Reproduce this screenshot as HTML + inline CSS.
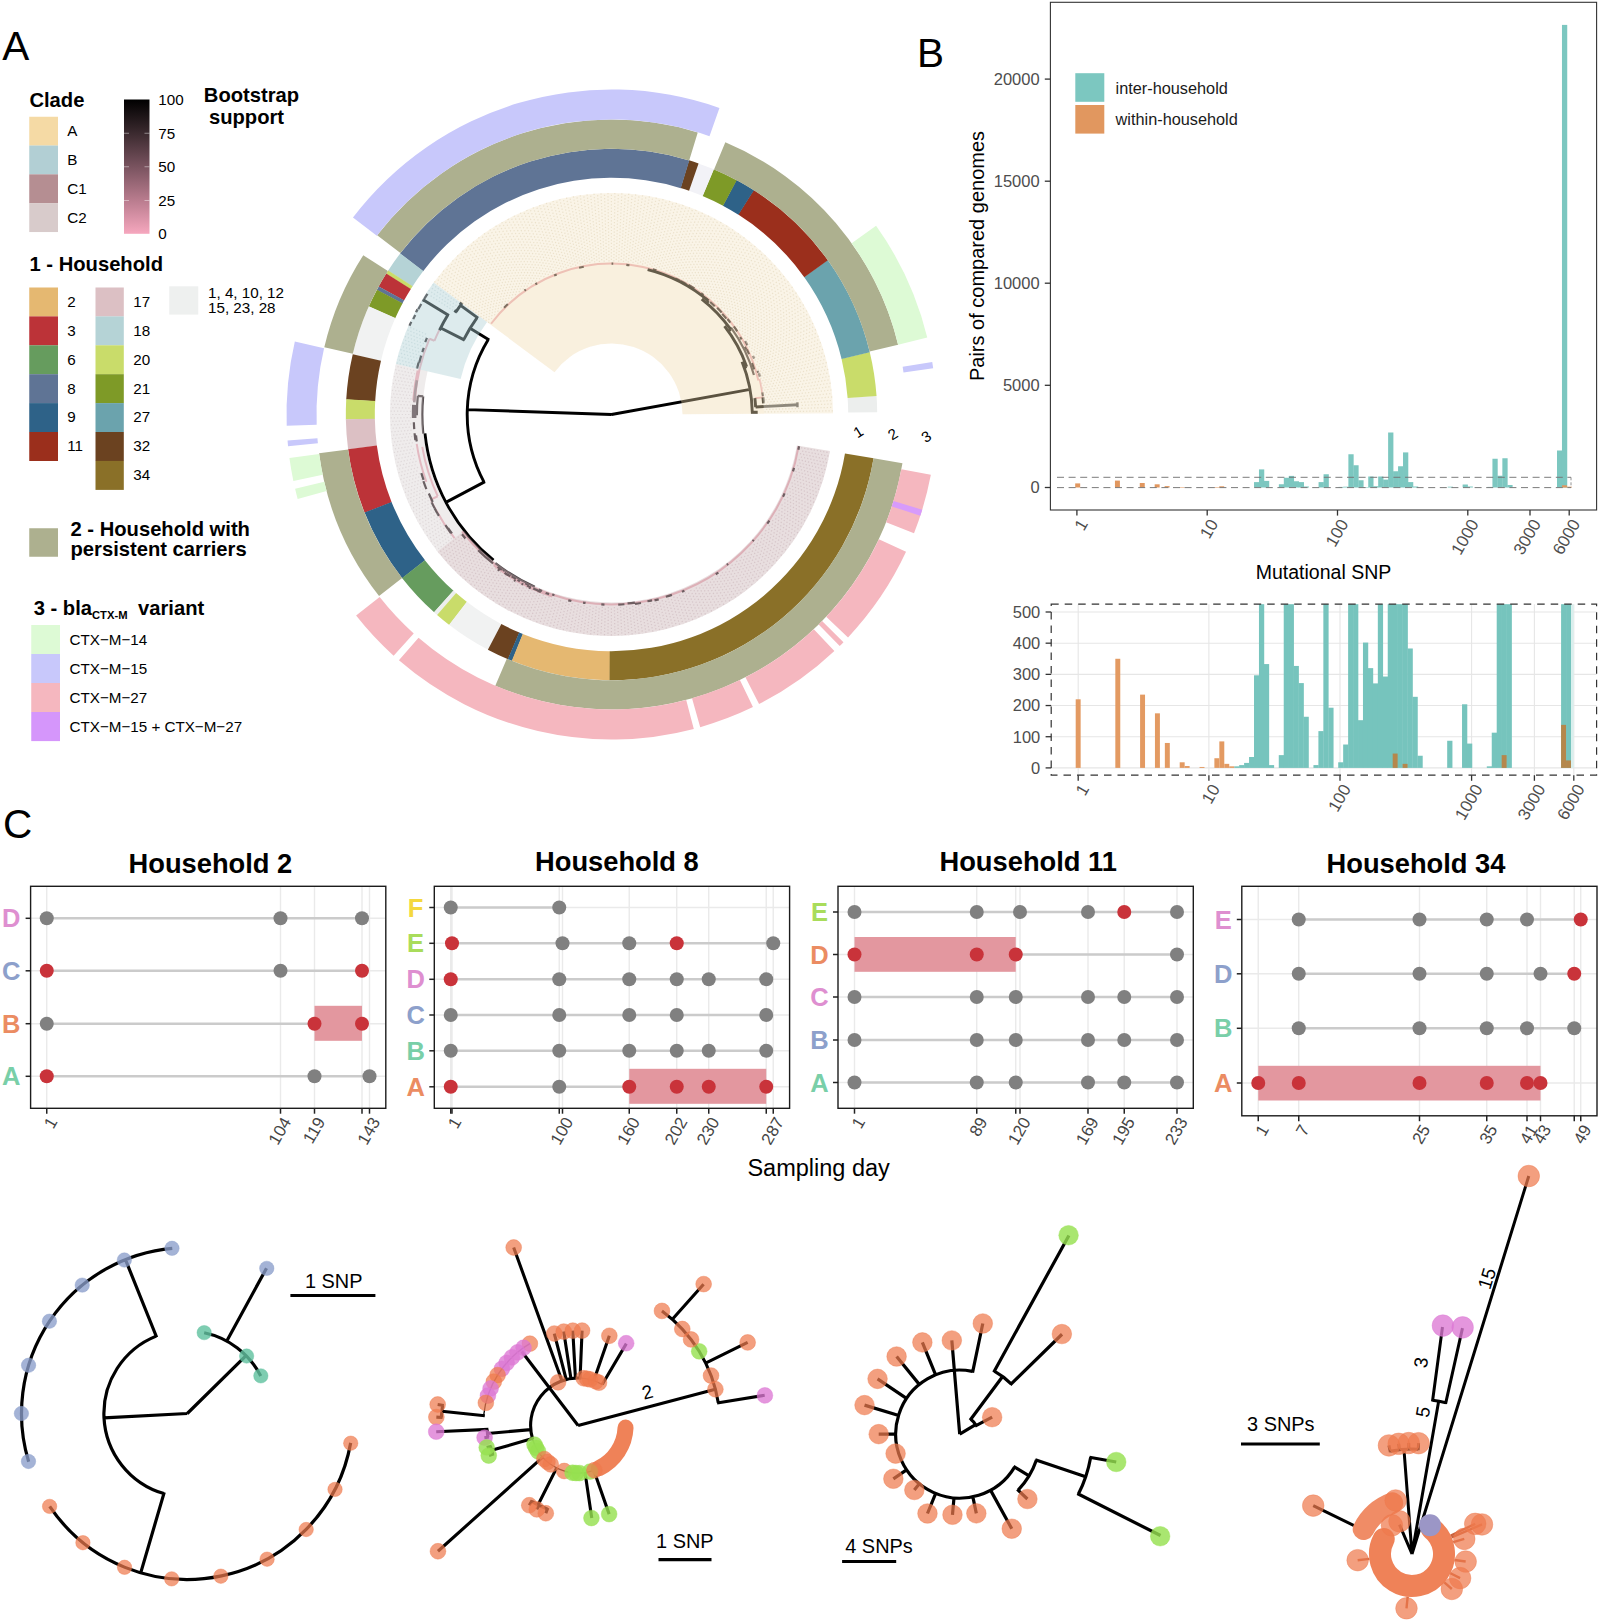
<!DOCTYPE html>
<html><head><meta charset="utf-8"><title>Figure</title>
<style>
html,body{margin:0;padding:0;background:#fff;}
body{width:1600px;height:1622px;overflow:hidden;font-family:"Liberation Sans",sans-serif;}
svg{display:block;font-family:"Liberation Sans",sans-serif;}
</style></head><body>
<svg width="1600" height="1622" viewBox="0 0 1600 1622">
<rect width="1600" height="1622" fill="#fff"/>
<g id="panelA">
<text x="2.2" y="60" font-size="40.5" text-anchor="start" font-weight="normal" fill="#000" >A</text>
<text x="29.4" y="106.5" font-size="20.2" text-anchor="start" font-weight="bold" fill="#000" >Clade</text>
<rect x="29.25" y="116.75" width="28.75" height="28.9" fill="#F5DAA5"/>
<text x="67.3" y="136.35" font-size="15.2" text-anchor="start" font-weight="normal" fill="#000" >A</text>
<rect x="29.25" y="145.55" width="28.75" height="28.9" fill="#B2CFD4"/>
<text x="67.3" y="165.15" font-size="15.2" text-anchor="start" font-weight="normal" fill="#000" >B</text>
<rect x="29.25" y="174.35" width="28.75" height="28.9" fill="#B58E92"/>
<text x="67.3" y="193.95" font-size="15.2" text-anchor="start" font-weight="normal" fill="#000" >C1</text>
<rect x="29.25" y="203.15" width="28.75" height="28.9" fill="#D8CBCB"/>
<text x="67.3" y="222.75" font-size="15.2" text-anchor="start" font-weight="normal" fill="#000" >C2</text>
<defs><linearGradient id="bs" x1="0" y1="0" x2="0" y2="1"><stop offset="0" stop-color="#000000"/><stop offset="0.25" stop-color="#3B2A2F"/><stop offset="0.5" stop-color="#79535F"/><stop offset="0.75" stop-color="#B97C8E"/><stop offset="1" stop-color="#F6A7BE"/></linearGradient></defs>
<rect x="124" y="99.5" width="25.5" height="134.3" fill="url(#bs)"/>
<path d="M124 133.25h5M144.5 133.25h5" stroke="#fff" stroke-opacity="0.55" stroke-width="0.8"/>
<path d="M124 166.75h5M144.5 166.75h5" stroke="#fff" stroke-opacity="0.55" stroke-width="0.8"/>
<path d="M124 200.5h5M144.5 200.5h5" stroke="#fff" stroke-opacity="0.55" stroke-width="0.8"/>
<text x="158.3" y="105.4" font-size="15.2" text-anchor="start" font-weight="normal" fill="#000" >100</text>
<text x="158.3" y="138.8" font-size="15.2" text-anchor="start" font-weight="normal" fill="#000" >75</text>
<text x="158.3" y="172.4" font-size="15.2" text-anchor="start" font-weight="normal" fill="#000" >50</text>
<text x="158.3" y="206" font-size="15.2" text-anchor="start" font-weight="normal" fill="#000" >25</text>
<text x="158.3" y="239.4" font-size="15.2" text-anchor="start" font-weight="normal" fill="#000" >0</text>
<text x="251.5" y="102" font-size="20.2" text-anchor="middle" font-weight="bold" fill="#000" >Bootstrap</text>
<text x="246.5" y="124.3" font-size="20.2" text-anchor="middle" font-weight="bold" fill="#000" >support</text>
<text x="29.5" y="271.3" font-size="20.2" text-anchor="start" font-weight="bold" fill="#000" >1 - Household</text>
<rect x="29.25" y="287.5" width="28.75" height="29" fill="#E5B871"/>
<text x="67.3" y="306.8" font-size="15.2" text-anchor="start" font-weight="normal" fill="#000" >2</text>
<rect x="29.25" y="316.4" width="28.75" height="29" fill="#BC3338"/>
<text x="67.3" y="335.7" font-size="15.2" text-anchor="start" font-weight="normal" fill="#000" >3</text>
<rect x="29.25" y="345.3" width="28.75" height="29" fill="#669C5E"/>
<text x="67.3" y="364.6" font-size="15.2" text-anchor="start" font-weight="normal" fill="#000" >6</text>
<rect x="29.25" y="374.2" width="28.75" height="29" fill="#5F7495"/>
<text x="67.3" y="393.5" font-size="15.2" text-anchor="start" font-weight="normal" fill="#000" >8</text>
<rect x="29.25" y="403.1" width="28.75" height="29" fill="#2E6288"/>
<text x="67.3" y="422.4" font-size="15.2" text-anchor="start" font-weight="normal" fill="#000" >9</text>
<rect x="29.25" y="432" width="28.75" height="29" fill="#9B2F1C"/>
<text x="67.3" y="451.3" font-size="15.2" text-anchor="start" font-weight="normal" fill="#000" >11</text>
<rect x="95.5" y="287.5" width="28.3" height="29" fill="#DCC0C4"/>
<text x="133.2" y="306.8" font-size="15.2" text-anchor="start" font-weight="normal" fill="#000" >17</text>
<rect x="95.5" y="316.4" width="28.3" height="29" fill="#B5D3D6"/>
<text x="133.2" y="335.7" font-size="15.2" text-anchor="start" font-weight="normal" fill="#000" >18</text>
<rect x="95.5" y="345.3" width="28.3" height="29" fill="#C9DC6A"/>
<text x="133.2" y="364.6" font-size="15.2" text-anchor="start" font-weight="normal" fill="#000" >20</text>
<rect x="95.5" y="374.2" width="28.3" height="29" fill="#7E9A27"/>
<text x="133.2" y="393.5" font-size="15.2" text-anchor="start" font-weight="normal" fill="#000" >21</text>
<rect x="95.5" y="403.1" width="28.3" height="29" fill="#6BA3AD"/>
<text x="133.2" y="422.4" font-size="15.2" text-anchor="start" font-weight="normal" fill="#000" >27</text>
<rect x="95.5" y="432" width="28.3" height="29" fill="#6B4220"/>
<text x="133.2" y="451.3" font-size="15.2" text-anchor="start" font-weight="normal" fill="#000" >32</text>
<rect x="95.5" y="460.9" width="28.3" height="29" fill="#8A7028"/>
<text x="133.2" y="480.2" font-size="15.2" text-anchor="start" font-weight="normal" fill="#000" >34</text>
<rect x="169.25" y="286.3" width="29" height="28.3" fill="#EEF0EF"/>
<text x="208" y="297.6" font-size="15.2" text-anchor="start" font-weight="normal" fill="#000" >1, 4, 10, 12</text>
<text x="208" y="312.7" font-size="15.2" text-anchor="start" font-weight="normal" fill="#000" >15, 23, 28</text>
<rect x="29.25" y="528.25" width="28.75" height="28.5" fill="#ADB08F"/>
<text x="70.5" y="535.6" font-size="20.2" text-anchor="start" font-weight="bold" fill="#000" >2 - Household with</text>
<text x="70.5" y="555.9" font-size="20.2" text-anchor="start" font-weight="bold" fill="#000" >persistent carriers</text>
<text x="33.7" y="615" font-size="20.2" font-weight="bold">3 - bla<tspan font-size="11.2" dy="3.8">CTX-M</tspan><tspan dy="-3.8" dx="5"> variant</tspan></text>
<rect x="31.25" y="625" width="28.75" height="29.1" fill="#DDFAD5"/>
<text x="69.5" y="644.6" font-size="15.2" text-anchor="start" font-weight="normal" fill="#000" >CTX−M−14</text>
<rect x="31.25" y="654" width="28.75" height="29.1" fill="#C8C8FB"/>
<text x="69.5" y="673.6" font-size="15.2" text-anchor="start" font-weight="normal" fill="#000" >CTX−M−15</text>
<rect x="31.25" y="683" width="28.75" height="29.1" fill="#F5B7BF"/>
<text x="69.5" y="702.6" font-size="15.2" text-anchor="start" font-weight="normal" fill="#000" >CTX−M−27</text>
<rect x="31.25" y="712" width="28.75" height="29.1" fill="#D596FB"/>
<text x="69.5" y="731.6" font-size="15.2" text-anchor="start" font-weight="normal" fill="#000" >CTX−M−15 + CTX−M−27</text>
<path d="M758.44 380.58A150.8 150.8 0 0 0 491.07 323.75M762.95 397.51A152.4 152.4 0 0 0 759.69 378.92M754.89 398.29L762.94 397.38M439.26 330.12A191.8 191.8 0 0 0 434.43 340.79M434.43 340.79L429.44 338.72M429.44 338.72A197.2 197.2 0 0 0 414.78 400.74M417.64 370.46A198.8 198.8 0 0 0 413.18 400.63M416.71 443.96A197 197 0 0 0 426.38 481.88M422.24 446.85A192 192 0 0 0 437.77 496.25M437.77 496.25L430.72 499.57M430.72 499.57A199.8 199.8 0 0 0 454.49 538.06M461.94 531.35A189.8 189.8 0 0 0 798.64 446.15M493.66 565.33A191.4 191.4 0 0 0 552.35 596.53" stroke="#EDB4BF" stroke-width="2" fill="none"/>
<path d="M679.84 280.63A150.3 150.3 0 0 0 675.23 278.38M656.37 270.42A150.9 150.9 0 0 0 652.85 269.38M629.46 265.28A150.3 150.3 0 0 0 626.31 264.93M613.25 263.61A150.9 150.9 0 0 0 611.55 263.6M583.77 266.78A150.3 150.3 0 0 0 579.09 267.74M556.68 274.56A150.3 150.3 0 0 0 554.18 275.56M537.11 283.21A150.9 150.9 0 0 0 535.37 284.21M525.82 289.55A151.5 151.5 0 0 0 524.43 290.52M507.84 304.02A151.5 151.5 0 0 0 504.03 307.72M754.12 369.35A149.6 149.6 0 0 0 752.01 363.15M753.28 366.78A149.6 149.6 0 0 0 752.03 363.2M749.04 354.15A150.2 150.2 0 0 0 746.85 349.37M746.25 349.51A149.6 149.6 0 0 0 744.88 346.75M741.59 339.42A150.2 150.2 0 0 0 740.15 336.97M737.25 331.27A150.8 150.8 0 0 0 733.89 326.4M730.35 322.66A150.2 150.2 0 0 0 727.44 319.02M726.35 318.64A149.6 149.6 0 0 0 722.2 313.87M721.64 312.38A150.2 150.2 0 0 0 717.13 307.72M714.76 306.25A149.6 149.6 0 0 0 710.15 302.04M707.51 299.77A149.6 149.6 0 0 0 705.03 297.74M703.5 295.02A150.8 150.8 0 0 0 701.17 293.25M694.39 288.52A150.8 150.8 0 0 0 688.59 284.9M686.27 284.23A150.2 150.2 0 0 0 680.3 280.98M762.99 396.13A152.6 152.6 0 0 0 762.48 392.3M759.94 376.62A153.2 153.2 0 0 0 758.99 373.08M758.3 372.82A152.6 152.6 0 0 0 757.69 370.73M754.14 358.61A153.2 153.2 0 0 0 753.06 355.93M747.46 345.21A152.6 152.6 0 0 0 745.21 340.96M426.95 337.95A199.8 199.8 0 0 0 425.25 342.17M423.77 347.87A199.2 199.2 0 0 0 422.32 352.11M421.21 355.61A199.2 199.2 0 0 0 419.16 362.68M418.56 362.6A199.8 199.8 0 0 0 417.07 368.47M413.85 422.31A197.8 197.8 0 0 0 414.25 429.18M414.59 433.26A197.8 197.8 0 0 0 415.36 440.1M416.02 435.48A196.6 196.6 0 0 0 416.76 441.51M421.34 473.14A199 199 0 0 0 423.55 479.9M423.38 481.22A199.6 199.6 0 0 0 426.36 489.08M428.84 493.46A199 199 0 0 0 432.73 501.91M431.62 502.37A200.2 200.2 0 0 0 435.99 510.82M435.37 509.68A200.2 200.2 0 0 0 438.9 515.93M445.41 525.2A199.6 199.6 0 0 0 450.89 533.01M448.12 528.11A199 199 0 0 0 451.95 533.43M497.6 566.82A190.2 190.2 0 0 0 501.86 569.92M502.95 569.95A189.6 189.6 0 0 0 504.7 571.16M507.11 574.21A190.8 190.8 0 0 0 510.38 576.3M511.55 576.32A190.2 190.2 0 0 0 515.89 578.92M517.5 579.85A190.2 190.2 0 0 0 519.93 581.21M525.24 583.34A189.6 189.6 0 0 0 528.93 585.18M527.11 585.62A190.8 190.8 0 0 0 530.91 587.44M533.19 588.49A190.8 190.8 0 0 0 537.97 590.56M538.66 589.55A189.6 189.6 0 0 0 542.06 590.93M545.62 592.93A190.2 190.2 0 0 0 549.03 594.15M552.19 594.58A189.6 189.6 0 0 0 554.43 595.31M497.81 569.47A192.2 192.2 0 0 0 499.53 570.72M504.54 572.74A191 191 0 0 0 507.98 575.02M513.94 580.1A192.2 192.2 0 0 0 515.54 581.03M521.51 583.65A191.6 191.6 0 0 0 523.22 584.55M528.99 587.42A191.6 191.6 0 0 0 530.75 588.25M537.79 590.71A191 191 0 0 0 540.91 591.98M618.22 604.58A190.2 190.2 0 0 0 624.43 604.26M627.55 603.42A189.6 189.6 0 0 0 634.88 602.65M635.03 603.84A190.8 190.8 0 0 0 641.02 603M647.44 601.27A190.2 190.2 0 0 0 652.07 600.32M654.49 600.39A190.8 190.8 0 0 0 658.72 599.36M665.85 596.77A190.2 190.2 0 0 0 671.91 594.85M568.25 600.33A190.8 190.8 0 0 0 571.37 601.03M583.06 602.56A190.2 190.2 0 0 0 585.58 602.93M601.31 604.43A190.2 190.2 0 0 0 604.47 604.57M681.92 591.83A190.8 190.8 0 0 0 684.42 590.82M715.79 574.28A190.8 190.8 0 0 0 718.38 572.56M726.86 564.97A189.6 189.6 0 0 0 728.14 563.98M752.63 541.12A189.6 189.6 0 0 0 753.75 539.85M767.3 523.59A190.2 190.2 0 0 0 769.37 520.58M783.03 496.68A190.2 190.2 0 0 0 784.57 493.37M793 471.38A190.2 190.2 0 0 0 794.05 467.88M798.39 449.81A190.2 190.2 0 0 0 799.04 446.22M427.46 293.96A220 220 0 0 0 424.23 299.04M424.42 298.74A220 220 0 0 0 422.75 301.47M421.29 303.95A220 220 0 0 0 418.28 309.3M417.57 309.36A220.6 220.6 0 0 0 416.07 312.16M415.28 315.02A220 220 0 0 0 413.24 319.14M411.29 321.87A220.6 220.6 0 0 0 409.51 325.81M461.97 534.3A191.6 191.6 0 0 0 465.37 538.42M478.12 550.23A190.3 190.3 0 0 0 493.04 563.43" stroke="#3A2F33" stroke-width="2.2" fill="none"/>
<path d="M423.17 396.37A189.2 189.2 0 0 0 423.27 433.62M423.17 396.37L417.8 395.85M417.8 395.85A194.6 194.6 0 0 0 416.9 415.18M495.39 563.12A188.6 188.6 0 0 0 534.79 586.79M753.92 375A147.8 147.8 0 0 0 731.07 327.63" stroke="#4E4649" stroke-width="2.2" fill="none"/>
<path d="M414.34 404.86A197.4 197.4 0 0 0 414.13 417.95" stroke="#5A4F55" stroke-width="4.6" fill="none"/>
<path d="M416.9 380.19A197.6 197.6 0 0 0 414.27 402.44" stroke="#A08C93" stroke-width="2.6" fill="none"/>
<path d="M611.5 414.5L467.08 409.61M611.5 414.5L748.87 389.64M488.27 339.43A144.3 144.3 0 0 0 484.03 482.13M489.21 340L470.08 328.34M485 481.62L445.87 502.38M424.96 433.45A187.5 187.5 0 0 0 493.5 560.21" stroke="#000" stroke-width="2.9" fill="none" stroke-linejoin="miter"/>
<path d="M477.11 317.57A165.7 165.7 0 0 0 463.6 339.79M478.08 318.1L460.49 305.39M461.74 303.68A186.3 186.3 0 0 0 456.15 311.67M462.43 304.6L459.78 302.64M457.06 312.28L454.31 310.46M464.65 340.16L440.73 328.05M447.96 314.87A191.5 191.5 0 0 0 439.53 330.25M448.9 315.44L423.45 299.94" stroke="#111" stroke-width="2.9" fill="none"/>
<path d="M752.28 412.29A140.8 140.8 0 0 0 742.05 361.76M750.88 412.31L757.68 412.2M746.67 366.63A143.4 143.4 0 0 0 724.5 326.21M744.22 367.5L746.67 366.63M730.77 329.43A146.5 146.5 0 0 0 701.69 299.06M728.24 331.23L730.77 329.43M708.53 300.9A149.4 149.4 0 0 0 647.64 269.54M706.64 303.1L708.53 300.9M755.6 406.95L797.64 404.74M755.62 407.2A144.3 144.3 0 0 0 754.87 398.16M763.49 403.34A152.4 152.4 0 0 0 762.92 397.25" stroke="#111" stroke-width="2.9" fill="none"/>
<path d="M797.44 402.26v5" stroke="#111" stroke-width="2.4"/>
<path d="M682.5 414.13L833 413.34A221.5 221.5 0 0 0 433.68 282.44L554.5 372.17A71 71 0 0 1 682.5 414.13Z" fill="#EFD8A8" fill-opacity="0.38"/>
<path d="M487.06 322.09L433.68 282.44A221.5 221.5 0 0 0 395.85 363.92L460.6 379.11A155 155 0 0 1 487.06 322.09Z" fill="#A9CDD2" fill-opacity="0.40"/>
<path d="M427.59 371.36L395.85 363.92A221.5 221.5 0 0 0 437.43 551.48L463.05 531.32A188.9 188.9 0 0 1 427.59 371.36Z" fill="#CFC4C6" fill-opacity="0.33"/>
<path d="M463.76 530.76L437.43 551.48A221.5 221.5 0 0 0 829.96 451.06L796.92 445.53A188 188 0 0 1 463.76 530.76Z" fill="#C3A8AD" fill-opacity="0.385"/>
<path d="M764 413.7L833 413.34A221.5 221.5 0 0 0 433.68 282.44L489.07 323.58A152.5 152.5 0 0 1 764 413.7Z" fill="#fff" fill-opacity="0.28"/>
<path d="M764.48 411.96L832.97 410.83M766.02 409.51L832.88 407.35M801.78 405.36L832.75 403.88M765.79 404.66L832.55 400.4M764.02 402.37L832.3 396.93M765.4 399.82L832 393.47M763.56 397.58L831.64 390.01M764.86 394.99L831.23 386.55M762.96 392.82L830.76 383.11M764.18 390.19L830.24 379.67M762.2 388.07L829.67 376.24M763.34 385.41L829.04 372.82M761.3 383.35L828.36 369.41M762.35 380.65L827.63 366.01M760.24 378.66L826.84 362.62M761.21 375.93L826 359.24M759.04 374.01L825.1 355.88M759.93 371.25L824.16 352.53M757.7 369.4L823.16 349.2M758.5 366.61L822.11 345.89M756.21 364.83L821 342.59M756.92 362.02L819.85 339.31M754.58 360.31L818.64 336.05M755.2 357.48L817.38 332.8M752.81 355.84L816.07 329.58M753.34 352.99L814.72 326.38M750.9 351.43L813.31 323.2M751.34 348.57L811.85 320.04M748.85 347.09L810.34 316.91M749.2 344.21L808.78 313.8M746.66 342.81L807.18 310.71M746.92 339.92L805.52 307.65M744.35 338.6L803.82 304.62M744.51 335.71L802.07 301.61M741.9 334.46L800.28 298.63M741.97 331.57L798.43 295.68M739.32 330.41L796.55 292.76M739.31 327.51L794.61 289.87M736.62 326.44L792.63 287.01M736.51 323.54L790.61 284.18M733.79 322.55L788.54 281.38M733.59 319.66L786.43 278.62M730.84 318.76L784.27 275.89M730.55 315.87L782.07 273.19M727.78 315.06L779.83 270.53M727.4 312.18L777.55 267.91M724.6 311.45L775.23 265.32M724.13 308.59L772.87 262.77M721.3 307.95L770.46 260.25M720.75 305.11L768.02 257.77M717.9 304.56L765.54 255.34M717.26 301.73L763.02 252.94M714.4 301.27L760.47 250.58M713.67 298.47L757.88 248.26M710.79 298.1L755.25 245.98M709.97 295.32L752.58 243.74M707.09 295.03L749.88 241.55M706.18 292.28L747.15 239.4M703.29 292.09L744.38 237.29M702.3 289.37L741.59 235.22M699.4 289.27L738.75 233.2M698.32 286.58L735.89 231.23M695.42 286.57L733 229.3M694.26 283.92L730.08 227.41M691.37 284L727.12 225.57M690.12 281.38L724.14 223.78M687.23 281.56L721.13 222.04M685.9 278.98L718.1 220.34M683.02 279.24L715.04 218.69M681.61 276.71L711.95 217.09M678.73 277.06L708.84 215.53M677.25 274.58L705.7 214.03M674.39 275.02L702.54 212.57M672.82 272.58L699.36 211.17M669.97 273.11L696.15 209.82M668.34 270.73L692.93 208.51M665.51 271.35L689.68 207.26M663.79 269.01L686.42 206.06M660.98 269.72L683.14 204.9M659.2 267.44L679.84 203.81M656.41 268.24L676.52 202.76M654.56 266.02L673.19 201.76M651.8 266.9L669.84 200.82M649.87 264.74L666.48 199.93M647.14 265.71L663.1 199.09M645.15 263.61L659.71 198.31M642.45 264.66L656.31 197.58M640.4 262.62L652.9 196.9M637.73 263.77L649.48 196.28M635.61 261.79L646.05 195.71M632.99 263.02L642.61 195.2M630.81 261.11L639.16 194.73M628.22 262.42L635.71 194.33M625.98 260.58L632.25 193.97M623.44 261.97L628.78 193.68M621.14 260.2L625.31 193.43M618.64 261.67L621.84 193.24M616.29 259.97L618.36 193.11M613.84 261.52L614.88 193.03M611.43 259.9L611.41 193M609.03 261.52L607.93 193.03M606.58 259.98L604.45 193.11M604.23 261.67L600.97 193.25M601.73 260.21L597.5 193.44M599.43 261.98L594.03 193.69M596.89 260.59L590.57 193.99M594.65 262.43L587.11 194.35M592.06 261.13L583.65 194.76M589.88 263.03L580.21 195.22M587.26 261.81L576.77 195.74M585.14 263.79L573.34 196.31M582.47 262.65L569.91 196.94M580.42 264.69L566.5 197.62M577.72 263.64L563.1 198.35M575.73 265.74L559.71 199.14M573 264.77L556.34 199.98M571.08 266.94L552.98 200.87M568.32 266.05L549.63 201.82M566.46 268.28L546.3 202.81M563.68 267.48L542.98 203.86M561.89 269.77L539.68 204.97M559.08 269.06L536.4 206.12M557.37 271.39L533.14 207.32M554.54 270.77L529.89 208.58M552.91 273.16L526.67 209.89M550.06 272.63L523.47 211.24M548.5 275.07L520.29 212.65M545.63 274.63L517.13 214.11M544.15 277.12L513.99 215.62M541.27 276.77L510.88 217.17M539.87 279.3L507.8 218.78M536.98 279.04L504.74 220.43M535.66 281.62L501.7 222.13M532.77 281.45L498.7 223.88M531.52 284.07L495.72 225.67M528.63 283.99L492.76 227.51M527.47 286.64L489.84 229.4M524.57 286.66L486.95 231.33M523.49 289.35L484.09 233.31M520.6 289.45L481.26 235.33M519.61 292.17L478.46 237.4M516.72 292.36L475.7 239.51M515.81 295.12L472.97 241.67M512.93 295.4L470.27 243.86M512.11 298.18L467.61 246.1M509.24 298.56L464.98 248.38M508.5 301.36L462.39 250.7M505.65 301.82L459.84 253.07M505 304.65L457.32 255.47M502.16 305.2L454.84 257.91M501.61 308.05L452.4 260.39M498.78 308.69L450 262.9M498.32 311.55L447.64 265.46M495.51 312.28L445.32 268.05M495.14 315.16L443.04 270.68M492.36 315.98L440.81 273.34M492.08 318.86L438.61 276.04M489.33 319.76L436.46 278.77M489.13 322.66L434.35 281.54" stroke="#DDD0B0" stroke-width="1.2" stroke-dasharray="1.2 2.0" fill="none" stroke-opacity="0.5"/>
<path d="M456.88 302.2L432.28 284.33M456.44 305.56L430.26 287.16M453.43 307.11L428.28 290.03M453.1 310.48L426.35 292.92M426.01 334.25L408.21 326.55M426.26 337.79L406.85 329.75M423.59 340.12L405.55 332.98M423.94 343.64L404.29 336.22M421.34 346.06L403.09 339.49M421.81 349.57L401.94 342.77M419.29 352.06L400.84 346.07M419.86 355.56L399.79 349.38M417.42 358.13L398.79 352.72M418.1 361.6L397.85 356.06M415.75 364.25L396.96 359.43M416.54 367.7L396.12 362.8" stroke="#B4CDD1" stroke-width="1.2" stroke-dasharray="1.2 2.0" fill="none" stroke-opacity="0.5"/>
<path d="M414.27 370.42L395.33 366.19M415.16 373.85L394.6 369.59M412.98 376.64L393.92 373M413.98 380.03L393.3 376.42M411.89 382.89L392.73 379.85M413 386.25L392.21 383.29M410.99 389.17L391.75 386.74M412.21 392.5L391.34 390.2M410.3 395.48L390.98 393.66M411.62 398.77L390.68 397.12M409.8 401.81L390.44 400.59M411.22 405.05L390.25 404.06M409.5 408.15L390.11 407.54M411.02 411.35L390.03 411.02M409.4 414.5L390 414.5M411.02 417.64L390.03 417.97M409.5 420.84L390.11 421.45M411.22 423.94L390.25 424.93M409.8 427.18L390.44 428.4M411.62 430.22L390.68 431.87M410.3 433.51L390.98 435.33M412.21 436.49L391.34 438.79M410.99 439.82L391.74 442.25M413 442.74L392.21 445.7M411.89 446.1L392.72 449.14M413.98 448.96L393.3 452.57M412.98 452.35L393.92 455.99M415.16 455.14L394.6 459.4M414.26 458.57L395.33 462.8M416.54 461.29L396.12 466.19M415.74 464.74L396.95 469.56M418.1 467.39L397.84 472.93M417.42 470.86L398.79 476.27M419.86 473.43L399.78 479.61M419.28 476.93L400.83 482.92M421.8 479.42L401.93 486.22M421.34 482.94L403.09 489.51M423.93 485.35L404.29 492.77M423.58 488.87L405.54 496.01M426.25 491.2L406.85 499.24M426.01 494.74L408.21 502.44M428.75 496.98L409.61 505.62M428.62 500.52L411.07 508.78M431.43 502.68L412.57 511.92M431.41 506.22L414.13 515.03M434.29 508.29L415.73 518.11M434.38 511.83L417.38 521.18M437.32 513.81L419.08 524.21M437.53 517.35L420.83 527.22M440.53 519.23L422.62 530.2M440.84 522.76L424.46 533.15M443.9 524.55L426.35 536.07M444.33 528.06L428.28 538.97M447.44 529.76L430.25 541.83M447.97 533.26L432.28 544.66M451.14 534.85L434.34 547.46M451.78 538.33L436.45 550.22" stroke="#CFC6C8" stroke-width="1.2" stroke-dasharray="1.2 2.0" fill="none" stroke-opacity="0.5"/>
<path d="M461.24 534.83L438.6 552.95M461.92 538.19L440.8 555.65M465.09 539.49L443.04 558.31M465.87 542.83L445.32 560.94M469.09 544.02L447.64 563.53M469.98 547.34L450 566.09M473.23 548.43L452.4 568.61M474.22 551.72L454.84 571.09M477.5 552.71L457.32 573.53M478.59 555.96L459.83 575.93M481.91 556.85L462.39 578.29M483.1 560.06L464.98 580.61M486.44 560.84L467.6 582.89M487.74 564.02L470.26 585.13M491.1 564.7L472.96 587.33M492.49 567.84L475.69 589.48M495.87 568.41L478.46 591.59M497.37 571.5L481.25 593.66M500.76 571.96L484.08 595.68M502.35 575L486.94 597.66M505.76 575.36L489.83 599.59M507.45 578.35L492.76 601.48M510.87 578.6L495.71 603.32M512.64 581.54L498.69 605.12M516.07 581.68L501.69 606.87M517.94 584.56L504.73 608.57M521.37 584.59L507.79 610.22M523.32 587.41L510.87 611.82M526.75 587.34L513.99 613.38M528.8 590.1L517.12 614.89M532.22 589.92L520.28 616.34M534.35 592.61L523.46 617.75M537.77 592.32L526.66 619.11M539.98 594.94L529.89 620.42M543.39 594.55L533.13 621.67M545.68 597.1L536.39 622.88M549.08 596.6L539.67 624.03M551.45 599.08L542.97 625.13M554.83 598.47L546.29 626.18M557.28 600.87L549.62 627.18M560.63 600.16L552.97 628.13M563.15 602.48L556.33 629.02M566.49 601.66L559.7 629.86M569.08 603.91L563.09 630.65M572.39 602.98L566.49 631.38M575.05 605.15L569.9 632.06M578.32 604.12L573.33 632.69M581.05 606.2L576.76 633.26M584.29 605.07L580.2 633.78M587.09 607.06L583.64 634.24M590.29 605.83L587.1 634.65M593.15 607.73L590.56 635.01M596.31 606.4L594.02 635.31M599.22 608.21L597.49 635.56M602.34 606.78L600.96 635.75M605.31 608.5L604.44 635.89M608.39 606.97L607.92 635.97M611.41 608.6L611.4 636M614.43 606.98L614.87 635.97M617.5 608.51L618.35 635.89M620.47 606.79L621.83 635.76M623.59 608.22L625.3 635.57M626.51 606.41L628.77 635.33M629.67 607.75L632.24 635.03M632.53 605.85L635.7 634.67M635.73 607.08L639.15 634.27M638.53 605.09L642.6 633.81M641.77 606.23L646.04 633.29M644.5 604.15L649.47 632.72M647.77 605.18L652.89 632.1M650.44 603.02L656.3 631.42M653.74 603.95L659.7 630.69M656.34 601.71L663.09 629.91M659.67 602.53L666.47 629.07M662.19 600.21L669.83 628.18M665.55 600.92L673.18 627.24M668 598.52L676.51 626.24M671.38 599.13L679.83 625.2M673.75 596.66L683.13 624.1M677.14 597.16L686.41 622.95M679.44 594.61L689.68 621.75M682.85 595.01L692.92 620.49M685.06 592.39L696.15 619.19M688.48 592.68L699.35 617.83M690.61 589.99L702.53 616.43M694.04 590.18L705.69 614.98M696.08 587.42L708.83 613.47M699.51 587.5L711.94 611.92M701.47 584.68L715.03 610.32M704.9 584.65L718.09 608.67M706.77 581.77L721.12 606.97M710.2 581.63L724.13 605.22M711.98 578.7L727.11 603.43M715.4 578.45L730.07 601.59M717.08 575.46L732.99 599.71M720.5 575.11L735.88 597.78M722.09 572.07L738.75 595.8M725.49 571.6L741.58 593.78M726.98 568.51L744.38 591.72M730.36 567.95L747.14 589.61M731.76 564.81L749.88 587.46M735.12 564.14L752.58 585.26M736.42 560.96L755.24 583.03M739.76 560.18L757.87 580.75M740.96 556.97L760.46 578.43M744.27 556.08L763.02 576.07M745.37 552.83L765.53 573.67M748.65 551.84L768.02 571.23M749.65 548.56L770.46 568.76M752.9 547.47L772.86 566.24M753.79 544.16L775.22 563.69M757 542.96L777.55 561.1M757.79 539.62L779.83 558.47M760.97 538.33L782.07 555.81M761.65 534.97L784.26 553.12M764.78 533.58L786.42 550.39M765.35 530.19L788.53 547.62M768.45 528.71L790.6 544.83M768.91 525.31L792.63 542M771.95 523.72L794.61 539.14M772.31 520.31L796.54 536.25M775.31 518.63L798.43 533.33M775.56 515.21L800.27 530.38M778.49 513.43L802.07 527.4M778.64 510L803.82 524.39M781.52 508.14L805.52 521.36M781.55 504.71L807.17 518.3M784.38 502.76L808.78 515.21M784.3 499.32L810.34 512.1M787.06 497.28L811.84 508.97M786.88 493.86L813.3 505.81M789.57 491.73L814.71 502.63M789.29 488.31L816.07 499.43M791.91 486.1L817.38 496.21M791.52 482.69L818.64 492.96M794.07 480.4L819.84 489.7M793.57 477L821 486.42M796.05 474.63L822.1 483.12M795.44 471.26L823.15 479.81M797.85 468.81L824.15 476.47M797.13 465.45L825.1 473.13M799.46 462.93L825.99 469.77M798.64 459.6L826.84 466.39M800.89 457L827.62 463M799.97 453.7L828.36 459.6M802.13 451.04L829.04 456.19M801.1 447.76L829.67 452.77" stroke="#C6ADB3" stroke-width="1.2" stroke-dasharray="1.2 2.0" fill="none" stroke-opacity="0.5"/>
<path d="M848.19 412.56L877.19 412.32A265.7 265.7 0 0 0 876.54 395.83L847.61 397.87A236.7 236.7 0 0 1 848.19 412.56Z" fill="#ECEEED" />
<path d="M847.63 398.11L876.56 396.1A265.7 265.7 0 0 0 869.72 351.89L841.53 358.72A236.7 236.7 0 0 1 847.63 398.11Z" fill="#C9DC6A" />
<path d="M841.59 358.96L869.78 352.16A265.7 265.7 0 0 0 827.73 260.09L804.13 276.95A236.7 236.7 0 0 1 841.59 358.96Z" fill="#6BA3AD" />
<path d="M804.27 277.15L827.89 260.32A265.7 265.7 0 0 0 753.75 190.09L738.23 214.58A236.7 236.7 0 0 1 804.27 277.15Z" fill="#9B2F1C" />
<path d="M738.43 214.71L753.99 190.24A265.7 265.7 0 0 0 736.53 180.05L722.88 205.64A236.7 236.7 0 0 1 738.43 214.71Z" fill="#2E6288" />
<path d="M723.1 205.76L736.77 180.18A265.7 265.7 0 0 0 713.69 169.24L702.54 196.01A236.7 236.7 0 0 1 723.1 205.76Z" fill="#7E9A27" />
<path d="M702.77 196.1L713.95 169.35A265.7 265.7 0 0 0 698.31 163.38L688.84 190.79A236.7 236.7 0 0 1 702.77 196.1Z" fill="#F2F2F7" />
<path d="M689.07 190.87L698.57 163.47A265.7 265.7 0 0 0 689.05 160.37L680.59 188.11A236.7 236.7 0 0 1 689.07 190.87Z" fill="#6B4220" />
<path d="M680.82 188.18L689.32 160.45A265.7 265.7 0 0 0 400.06 253.6L423.14 271.16A236.7 236.7 0 0 1 680.82 188.18Z" fill="#5F7495" />
<path d="M423.29 270.96L400.23 253.38A265.7 265.7 0 0 0 388.09 270.69L412.47 286.38A236.7 236.7 0 0 1 423.29 270.96Z" fill="#B5D3D6" />
<path d="M412.61 286.17L388.24 270.45A265.7 265.7 0 0 0 386.1 273.82L410.7 289.17A236.7 236.7 0 0 1 412.61 286.17Z" fill="#C9DC6A" />
<path d="M410.83 288.96L386.25 273.58A265.7 265.7 0 0 0 378.6 286.62L404.02 300.58A236.7 236.7 0 0 1 410.83 288.96Z" fill="#BC3338" />
<path d="M404.14 300.36L378.73 286.38A265.7 265.7 0 0 0 376.84 289.88L402.45 303.49A236.7 236.7 0 0 1 404.14 300.36Z" fill="#5F7495" />
<path d="M402.56 303.27L376.97 289.64A265.7 265.7 0 0 0 368.71 306.56L395.21 318.34A236.7 236.7 0 0 1 402.56 303.27Z" fill="#7E9A27" />
<path d="M395.31 318.11L368.83 306.3A265.7 265.7 0 0 0 352.68 354.41L380.93 360.97A236.7 236.7 0 0 1 395.31 318.11Z" fill="#F1F2F2" />
<path d="M380.99 360.73L352.75 354.14A265.7 265.7 0 0 0 346.22 399.58L375.17 401.2A236.7 236.7 0 0 1 380.99 360.73Z" fill="#6B4220" />
<path d="M375.19 400.96L346.24 399.3A265.7 265.7 0 0 0 345.85 419.55L374.84 419A236.7 236.7 0 0 1 375.19 400.96Z" fill="#C9DC6A" />
<path d="M374.84 418.75L345.84 419.28A265.7 265.7 0 0 0 348.12 449.55L376.87 445.72A236.7 236.7 0 0 1 374.84 418.75Z" fill="#DCC0C4" />
<path d="M376.84 445.48L348.09 449.27A265.7 265.7 0 0 0 364.68 512.87L391.62 502.13A236.7 236.7 0 0 1 376.84 445.48Z" fill="#BC3338" />
<path d="M391.53 501.9L364.58 512.61A265.7 265.7 0 0 0 402.21 578.19L425.05 560.32A236.7 236.7 0 0 1 391.53 501.9Z" fill="#2E6288" />
<path d="M424.9 560.13L402.04 577.97A265.7 265.7 0 0 0 434.16 612.36L453.52 590.76A236.7 236.7 0 0 1 424.9 560.13Z" fill="#669C5E" />
<path d="M453.33 590.6L433.95 612.17A265.7 265.7 0 0 0 437.29 615.12L456.3 593.22A236.7 236.7 0 0 1 453.33 590.6Z" fill="#ECEEED" />
<path d="M456.12 593.06L437.08 614.94A265.7 265.7 0 0 0 449.31 624.95L467.01 601.98A236.7 236.7 0 0 1 456.12 593.06Z" fill="#C9DC6A" />
<path d="M466.82 601.83L449.09 624.78A265.7 265.7 0 0 0 488.11 649.81L501.58 624.13A236.7 236.7 0 0 1 466.82 601.83Z" fill="#F1F2F2" />
<path d="M501.36 624.02L487.87 649.68A265.7 265.7 0 0 0 508.07 659.24L519.36 632.53A236.7 236.7 0 0 1 501.36 624.02Z" fill="#6B4220" />
<path d="M519.13 632.43L507.81 659.13A265.7 265.7 0 0 0 512.1 660.9L522.95 634.01A236.7 236.7 0 0 1 519.13 632.43Z" fill="#2E6288" />
<path d="M522.72 633.92L511.84 660.8A265.7 265.7 0 0 0 609.78 680.19L609.97 651.2A236.7 236.7 0 0 1 522.72 633.92Z" fill="#E5B871" />
<path d="M609.72 651.19L609.51 680.19A265.7 265.7 0 0 0 873.58 458.22L844.97 453.44A236.7 236.7 0 0 1 609.72 651.19Z" fill="#8A7028" />
<path d="M869.64 351.57L898.11 344.63A295 295 0 0 0 725.34 142.35L714.04 169.38A265.7 265.7 0 0 1 869.64 351.57Z" fill="#ADB08F" />
<path d="M689.18 160.41L697.75 132.39A295 295 0 0 0 377.15 235.32L400.42 253.12A265.7 265.7 0 0 1 689.18 160.41Z" fill="#ADB08F" />
<path d="M387.91 270.96L363.25 255.13A295 295 0 0 0 324.29 347.14L352.82 353.83A265.7 265.7 0 0 1 387.91 270.96Z" fill="#ADB08F" />
<path d="M348.1 449.41L319.06 453.26A295 295 0 0 0 379.04 596.12L402.13 578.08A265.7 265.7 0 0 1 348.1 449.41Z" fill="#ADB08F" />
<path d="M506.83 658.71L495.29 685.64A295 295 0 0 0 902.45 463.19L873.56 458.35A265.7 265.7 0 0 1 506.83 658.71Z" fill="#ADB08F" />
<path d="M898.11 344.63L927.25 337.53A325 325 0 0 0 876.09 225.77L851.66 243.19A295 295 0 0 1 898.11 344.63Z" fill="#DDFAD5" />
<path d="M903.48 372.42L933.18 368.15A325 325 0 0 0 932.23 361.98L902.62 366.83A295 295 0 0 1 903.48 372.42Z" fill="#C8C8FB" />
<path d="M709.49 136.25L719.45 107.95A325 325 0 0 0 352.97 217.55L376.84 235.73A295 295 0 0 1 709.49 136.25Z" fill="#C8C8FB" />
<path d="M324.06 348.14L294.83 341.39A325 325 0 0 0 286.7 425.84L316.68 424.8A295 295 0 0 1 324.06 348.14Z" fill="#C8C8FB" />
<path d="M317.45 438.16L287.55 440.56A325 325 0 0 0 288.05 446.21L317.91 443.29A295 295 0 0 1 317.45 438.16Z" fill="#C8C8FB" />
<path d="M319.16 454.03L289.43 458.05A325 325 0 0 0 293.37 480.96L322.73 474.83A295 295 0 0 1 319.16 454.03Z" fill="#DDFAD5" />
<path d="M324.29 481.86L295.09 488.71A325 325 0 0 0 297.65 498.89L326.62 491.1A295 295 0 0 1 324.29 481.86Z" fill="#DDFAD5" />
<path d="M379.67 596.93L356.1 615.48A325 325 0 0 0 393.61 655.64L413.72 633.38A295 295 0 0 1 379.67 596.93Z" fill="#F5B7BF" />
<path d="M418.55 637.65L398.92 660.34A325 325 0 0 0 693.81 728.91L686.21 699.88A295 295 0 0 1 418.55 637.65Z" fill="#F5B7BF" />
<path d="M692.02 698.3L700.21 727.16A325 325 0 0 0 752.95 707.1L739.89 680.09A295 295 0 0 1 692.02 698.3Z" fill="#F5B7BF" />
<path d="M745.43 677.35L759.05 704.08A325 325 0 0 0 834.39 651.03L813.82 629.19A295 295 0 0 1 745.43 677.35Z" fill="#F5B7BF" />
<path d="M818.64 624.55L839.7 645.91A325 325 0 0 0 843.47 642.13L822.05 621.12A295 295 0 0 1 818.64 624.55Z" fill="#F5B7BF" />
<path d="M826.19 616.82L848.03 637.39A325 325 0 0 0 906.05 551.85L878.86 539.17A295 295 0 0 1 826.19 616.82Z" fill="#F5B7BF" />
<path d="M886.09 522.33L914.01 533.3A325 325 0 0 0 930.85 474.84L901.37 469.27A295 295 0 0 1 886.09 522.33Z" fill="#F5B7BF" />
<path d="M891.82 506.39L920.33 515.74A325 325 0 0 0 922.22 509.79L893.53 501A295 295 0 0 1 891.82 506.39Z" fill="#D79BFB" />
<text transform="translate(858.38 431.98) rotate(-32)" font-size="15" text-anchor="middle" dy="5">1</text>
<text transform="translate(892.8 434.42) rotate(-32)" font-size="15" text-anchor="middle" dy="5">2</text>
<text transform="translate(926.51 436.8) rotate(-32)" font-size="15" text-anchor="middle" dy="5">3</text>
</g>
<g id="panelB"><text x="916.9" y="66.6" font-size="40.5" text-anchor="start" font-weight="normal" fill="#000" >B</text>
<rect x="1254.01" y="482.1" width="5.27" height="5.4" fill="#7CC7C0"/>
<rect x="1258.98" y="469.4" width="5.27" height="18.1" fill="#7CC7C0"/>
<rect x="1263.95" y="480.9" width="5.27" height="6.6" fill="#7CC7C0"/>
<rect x="1278.85" y="484.25" width="5.27" height="3.25" fill="#7CC7C0"/>
<rect x="1283.81" y="477.75" width="5.27" height="9.75" fill="#7CC7C0"/>
<rect x="1288.78" y="475.9" width="5.27" height="11.6" fill="#7CC7C0"/>
<rect x="1293.75" y="481.25" width="5.27" height="6.25" fill="#7CC7C0"/>
<rect x="1298.72" y="482.1" width="5.27" height="5.4" fill="#7CC7C0"/>
<rect x="1303.68" y="486.5" width="5.27" height="1" fill="#7CC7C0"/>
<rect x="1318.58" y="482.1" width="5.27" height="5.4" fill="#7CC7C0"/>
<rect x="1323.55" y="474.25" width="5.27" height="13.25" fill="#7CC7C0"/>
<rect x="1338.45" y="486.9" width="5.27" height="0.6" fill="#7CC7C0"/>
<rect x="1343.42" y="486.7" width="5.27" height="0.8" fill="#7CC7C0"/>
<rect x="1348.38" y="454.25" width="5.27" height="33.25" fill="#7CC7C0"/>
<rect x="1353.35" y="465.25" width="5.27" height="22.25" fill="#7CC7C0"/>
<rect x="1358.32" y="480.25" width="5.27" height="7.25" fill="#7CC7C0"/>
<rect x="1363.29" y="487" width="5.27" height="0.5" fill="#7CC7C0"/>
<rect x="1368.25" y="476.5" width="5.27" height="11" fill="#7CC7C0"/>
<rect x="1373.22" y="486.25" width="5.27" height="1.25" fill="#7CC7C0"/>
<rect x="1378.19" y="476.5" width="5.27" height="11" fill="#7CC7C0"/>
<rect x="1383.15" y="479.6" width="5.27" height="7.9" fill="#7CC7C0"/>
<rect x="1388.12" y="432.5" width="5.27" height="55" fill="#7CC7C0"/>
<rect x="1393.09" y="471.25" width="5.27" height="16.25" fill="#7CC7C0"/>
<rect x="1398.06" y="466.25" width="5.27" height="21.25" fill="#7CC7C0"/>
<rect x="1403.02" y="452.4" width="5.27" height="35.1" fill="#7CC7C0"/>
<rect x="1407.99" y="482.1" width="5.27" height="5.4" fill="#7CC7C0"/>
<rect x="1412.96" y="486.5" width="5.27" height="1" fill="#7CC7C0"/>
<rect x="1447.72" y="486.7" width="5.27" height="0.8" fill="#7CC7C0"/>
<rect x="1462.63" y="484.5" width="5.27" height="3" fill="#7CC7C0"/>
<rect x="1467.59" y="486.5" width="5.27" height="1" fill="#7CC7C0"/>
<rect x="1487.46" y="486.9" width="5.27" height="0.6" fill="#7CC7C0"/>
<rect x="1492.43" y="458.75" width="5.27" height="28.75" fill="#7CC7C0"/>
<rect x="1497.39" y="475.75" width="5.27" height="11.75" fill="#7CC7C0"/>
<rect x="1502.36" y="458.25" width="5.27" height="29.25" fill="#7CC7C0"/>
<rect x="1507.33" y="485" width="5.27" height="2.5" fill="#7CC7C0"/>
<rect x="1557" y="450.5" width="5.27" height="37" fill="#7CC7C0"/>
<rect x="1561.97" y="24.9" width="5.27" height="462.6" fill="#7CC7C0"/>
<rect x="1075.2" y="483.4" width="4.97" height="4.1" fill="#E1975F"/>
<rect x="1114.94" y="480.6" width="4.97" height="6.9" fill="#E1975F"/>
<rect x="1139.77" y="483" width="4.97" height="4.5" fill="#E1975F"/>
<rect x="1154.67" y="484.3" width="4.97" height="3.2" fill="#E1975F"/>
<rect x="1164.61" y="486.1" width="4.97" height="1.4" fill="#E1975F"/>
<rect x="1179.51" y="487" width="4.97" height="0.5" fill="#E1975F"/>
<rect x="1214.28" y="487" width="4.97" height="0.5" fill="#E1975F"/>
<rect x="1219.24" y="486.3" width="4.97" height="1.2" fill="#E1975F"/>
<rect x="1561.97" y="485.3" width="4.97" height="2.2" fill="#E1975F"/>
<rect x="1566.93" y="486.7" width="4.97" height="0.8" fill="#E1975F"/>
<path d="M1057 477.3H1571M1057 487.6H1571" stroke="#757575" stroke-width="0.95" stroke-dasharray="7 4.6" fill="none"/>
<path d="M1571 477.3V487.6" stroke="#777" stroke-width="0.8" stroke-dasharray="3 2"/>
<rect x="1050.4" y="2.3" width="546.2" height="507.7" fill="none" stroke="#333" stroke-width="1.1"/>
<path d="M1044.8 487.5h5.6" stroke="#333" stroke-width="1.3"/>
<text x="1039.6" y="493.4" font-size="16.5" text-anchor="end" font-weight="normal" fill="#4D4D4D" >0</text>
<path d="M1044.8 385.3h5.6" stroke="#333" stroke-width="1.3"/>
<text x="1039.6" y="391.2" font-size="16.5" text-anchor="end" font-weight="normal" fill="#4D4D4D" >5000</text>
<path d="M1044.8 283.2h5.6" stroke="#333" stroke-width="1.3"/>
<text x="1039.6" y="289.1" font-size="16.5" text-anchor="end" font-weight="normal" fill="#4D4D4D" >10000</text>
<path d="M1044.8 181.2h5.6" stroke="#333" stroke-width="1.3"/>
<text x="1039.6" y="187.1" font-size="16.5" text-anchor="end" font-weight="normal" fill="#4D4D4D" >15000</text>
<path d="M1044.8 79.1h5.6" stroke="#333" stroke-width="1.3"/>
<text x="1039.6" y="85" font-size="16.5" text-anchor="end" font-weight="normal" fill="#4D4D4D" >20000</text>
<path d="M1076.9 510v5.6" stroke="#333" stroke-width="1.3"/>
<text transform="translate(1088.4 523.5) rotate(-60)" font-size="16.9" text-anchor="end" fill="#4D4D4D" >1</text>
<path d="M1207.2 510v5.6" stroke="#333" stroke-width="1.3"/>
<text transform="translate(1218.7 523.5) rotate(-60)" font-size="16.9" text-anchor="end" fill="#4D4D4D" >10</text>
<path d="M1337.5 510v5.6" stroke="#333" stroke-width="1.3"/>
<text transform="translate(1349 523.5) rotate(-60)" font-size="16.9" text-anchor="end" fill="#4D4D4D" >100</text>
<path d="M1467.8 510v5.6" stroke="#333" stroke-width="1.3"/>
<text transform="translate(1479.3 523.5) rotate(-60)" font-size="16.9" text-anchor="end" fill="#4D4D4D" >1000</text>
<path d="M1530 510v5.6" stroke="#333" stroke-width="1.3"/>
<text transform="translate(1541.5 523.5) rotate(-60)" font-size="16.9" text-anchor="end" fill="#4D4D4D" >3000</text>
<path d="M1569.2 510v5.6" stroke="#333" stroke-width="1.3"/>
<text transform="translate(1580.7 523.5) rotate(-60)" font-size="16.9" text-anchor="end" fill="#4D4D4D" >6000</text>
<text transform="translate(983.5 256) rotate(-90)" font-size="20" text-anchor="middle">Pairs of compared genomes</text>
<text x="1323.5" y="578.6" font-size="19.5" text-anchor="middle" font-weight="normal" fill="#000" >Mutational SNP</text>
<rect x="1075.3" y="73.2" width="29" height="28.6" fill="#7CC7C0"/>
<rect x="1075.3" y="105" width="29" height="28.6" fill="#E1975F"/>
<text x="1115.6" y="93.6" font-size="16.3" text-anchor="start" font-weight="normal" fill="#1a1a1a" >inter-household</text>
<text x="1115.6" y="124.8" font-size="16.3" text-anchor="start" font-weight="normal" fill="#1a1a1a" >within-household</text>
<path d="M1051.2 767.9H1596.6M1051.2 736.72H1596.6M1051.2 705.54H1596.6M1051.2 674.36H1596.6M1051.2 643.18H1596.6M1051.2 612H1596.6M1078.2 604.2V775.2M1208.9 604.2V775.2M1340 604.2V775.2M1471.6 604.2V775.2M1534.4 604.2V775.2M1573.8 604.2V775.2" stroke="#E6E6E6" stroke-width="1.1" fill="none"/>
<rect x="1234.2" y="766.34" width="5.25" height="1.56" fill="#76C4BD"/>
<rect x="1239.15" y="765.09" width="5.25" height="2.81" fill="#76C4BD"/>
<rect x="1244.1" y="762.91" width="5.25" height="4.99" fill="#76C4BD"/>
<rect x="1249.06" y="756.99" width="5.25" height="10.91" fill="#76C4BD"/>
<rect x="1254.01" y="675.3" width="5.25" height="92.6" fill="#76C4BD"/>
<rect x="1258.96" y="604.2" width="5.25" height="163.7" fill="#76C4BD"/>
<rect x="1263.91" y="664.07" width="5.25" height="103.83" fill="#76C4BD"/>
<rect x="1268.87" y="765.09" width="5.25" height="2.81" fill="#76C4BD"/>
<rect x="1278.77" y="755.12" width="5.25" height="12.78" fill="#76C4BD"/>
<rect x="1283.73" y="604.2" width="5.25" height="163.7" fill="#76C4BD"/>
<rect x="1288.68" y="604.2" width="5.25" height="163.7" fill="#76C4BD"/>
<rect x="1293.63" y="665.94" width="5.25" height="101.96" fill="#76C4BD"/>
<rect x="1298.59" y="683.09" width="5.25" height="84.81" fill="#76C4BD"/>
<rect x="1303.54" y="716.76" width="5.25" height="51.14" fill="#76C4BD"/>
<rect x="1313.44" y="765.09" width="5.25" height="2.81" fill="#76C4BD"/>
<rect x="1318.4" y="731.11" width="5.25" height="36.79" fill="#76C4BD"/>
<rect x="1323.35" y="604.2" width="5.25" height="163.7" fill="#76C4BD"/>
<rect x="1328.3" y="707.72" width="5.25" height="60.18" fill="#76C4BD"/>
<rect x="1338.21" y="762.29" width="5.25" height="5.61" fill="#76C4BD"/>
<rect x="1343.16" y="744.51" width="5.25" height="23.39" fill="#76C4BD"/>
<rect x="1348.12" y="604.2" width="5.25" height="163.7" fill="#76C4BD"/>
<rect x="1353.07" y="604.2" width="5.25" height="163.7" fill="#76C4BD"/>
<rect x="1358.02" y="720.19" width="5.25" height="47.71" fill="#76C4BD"/>
<rect x="1362.97" y="642.56" width="5.25" height="125.34" fill="#76C4BD"/>
<rect x="1367.93" y="668.12" width="5.25" height="99.78" fill="#76C4BD"/>
<rect x="1372.88" y="683.4" width="5.25" height="84.5" fill="#76C4BD"/>
<rect x="1377.83" y="604.2" width="5.25" height="163.7" fill="#76C4BD"/>
<rect x="1382.79" y="676.54" width="5.25" height="91.36" fill="#76C4BD"/>
<rect x="1387.74" y="604.2" width="5.25" height="163.7" fill="#76C4BD"/>
<rect x="1392.69" y="604.2" width="5.25" height="163.7" fill="#76C4BD"/>
<rect x="1397.64" y="604.2" width="5.25" height="163.7" fill="#76C4BD"/>
<rect x="1402.6" y="604.2" width="5.25" height="163.7" fill="#76C4BD"/>
<rect x="1407.55" y="648.48" width="5.25" height="119.42" fill="#76C4BD"/>
<rect x="1412.5" y="696.81" width="5.25" height="71.09" fill="#76C4BD"/>
<rect x="1417.46" y="755.74" width="5.25" height="12.16" fill="#76C4BD"/>
<rect x="1447.18" y="740.77" width="5.25" height="27.13" fill="#76C4BD"/>
<rect x="1462.03" y="704.29" width="5.25" height="63.61" fill="#76C4BD"/>
<rect x="1466.99" y="743.58" width="5.25" height="24.32" fill="#76C4BD"/>
<rect x="1486.8" y="766.34" width="5.25" height="1.56" fill="#76C4BD"/>
<rect x="1491.75" y="732.67" width="5.25" height="35.23" fill="#76C4BD"/>
<rect x="1496.71" y="604.2" width="5.25" height="163.7" fill="#76C4BD"/>
<rect x="1501.66" y="604.2" width="5.25" height="163.7" fill="#76C4BD"/>
<rect x="1506.61" y="604.2" width="5.25" height="163.7" fill="#76C4BD"/>
<rect x="1561.09" y="604.2" width="5.25" height="163.7" fill="#76C4BD"/>
<rect x="1566.05" y="604.2" width="5.25" height="163.7" fill="#76C4BD"/>
<rect x="1571" y="604.2" width="2.6" height="163.7" fill="#D9EFED"/>
<rect x="1075.7" y="699.3" width="4.95" height="68.6" fill="#E39A62"/>
<rect x="1115.32" y="658.77" width="4.95" height="109.13" fill="#E39A62"/>
<rect x="1140.09" y="694.63" width="4.95" height="73.27" fill="#E39A62"/>
<rect x="1154.95" y="713.33" width="4.95" height="54.57" fill="#E39A62"/>
<rect x="1164.85" y="742.96" width="4.95" height="24.94" fill="#E39A62"/>
<rect x="1179.71" y="762.29" width="4.95" height="5.61" fill="#E39A62"/>
<rect x="1184.67" y="766.03" width="4.95" height="1.87" fill="#E39A62"/>
<rect x="1199.53" y="766.96" width="4.95" height="0.94" fill="#E39A62"/>
<rect x="1214.38" y="758.23" width="4.95" height="9.67" fill="#E39A62"/>
<rect x="1219.34" y="741.4" width="4.95" height="26.5" fill="#E39A62"/>
<rect x="1224.29" y="763.85" width="4.95" height="4.05" fill="#E39A62"/>
<rect x="1229.24" y="766.34" width="4.95" height="1.56" fill="#E39A62"/>
<rect x="1392.69" y="753.56" width="4.95" height="14.34" fill="#B5874C"/>
<rect x="1402.6" y="763.85" width="4.95" height="4.05" fill="#B5874C"/>
<rect x="1501.66" y="755.12" width="4.95" height="12.78" fill="#B5874C"/>
<rect x="1561.09" y="724.87" width="4.95" height="43.03" fill="#B5874C"/>
<rect x="1566.05" y="760.42" width="4.95" height="7.48" fill="#B5874C"/>
<rect x="1051.2" y="604.2" width="545.4" height="171" fill="none" stroke="#333" stroke-width="1.2" stroke-dasharray="7.5 6"/>
<path d="M1045.6 767.9h5.6" stroke="#333" stroke-width="1.3"/>
<text x="1040.3" y="773.8" font-size="16.5" text-anchor="end" font-weight="normal" fill="#4D4D4D" >0</text>
<path d="M1045.6 736.72h5.6" stroke="#333" stroke-width="1.3"/>
<text x="1040.3" y="742.62" font-size="16.5" text-anchor="end" font-weight="normal" fill="#4D4D4D" >100</text>
<path d="M1045.6 705.54h5.6" stroke="#333" stroke-width="1.3"/>
<text x="1040.3" y="711.44" font-size="16.5" text-anchor="end" font-weight="normal" fill="#4D4D4D" >200</text>
<path d="M1045.6 674.36h5.6" stroke="#333" stroke-width="1.3"/>
<text x="1040.3" y="680.26" font-size="16.5" text-anchor="end" font-weight="normal" fill="#4D4D4D" >300</text>
<path d="M1045.6 643.18h5.6" stroke="#333" stroke-width="1.3"/>
<text x="1040.3" y="649.08" font-size="16.5" text-anchor="end" font-weight="normal" fill="#4D4D4D" >400</text>
<path d="M1045.6 612h5.6" stroke="#333" stroke-width="1.3"/>
<text x="1040.3" y="617.9" font-size="16.5" text-anchor="end" font-weight="normal" fill="#4D4D4D" >500</text>
<path d="M1078.2 775.2v5.6" stroke="#333" stroke-width="1.3"/>
<text transform="translate(1089.7 788.7) rotate(-60)" font-size="16.9" text-anchor="end" fill="#4D4D4D" >1</text>
<path d="M1208.9 775.2v5.6" stroke="#333" stroke-width="1.3"/>
<text transform="translate(1220.4 788.7) rotate(-60)" font-size="16.9" text-anchor="end" fill="#4D4D4D" >10</text>
<path d="M1340 775.2v5.6" stroke="#333" stroke-width="1.3"/>
<text transform="translate(1351.5 788.7) rotate(-60)" font-size="16.9" text-anchor="end" fill="#4D4D4D" >100</text>
<path d="M1471.6 775.2v5.6" stroke="#333" stroke-width="1.3"/>
<text transform="translate(1483.1 788.7) rotate(-60)" font-size="16.9" text-anchor="end" fill="#4D4D4D" >1000</text>
<path d="M1534.4 775.2v5.6" stroke="#333" stroke-width="1.3"/>
<text transform="translate(1545.9 788.7) rotate(-60)" font-size="16.9" text-anchor="end" fill="#4D4D4D" >3000</text>
<path d="M1573.8 775.2v5.6" stroke="#333" stroke-width="1.3"/>
<text transform="translate(1585.3 788.7) rotate(-60)" font-size="16.9" text-anchor="end" fill="#4D4D4D" >6000</text></g>
<g id="panelC"><text x="3" y="837.9" font-size="40.5" text-anchor="start" font-weight="normal" fill="#000" >C</text>
<text x="210.4" y="872.6" font-size="27.3" text-anchor="middle" font-weight="bold" fill="#000" >Household 2</text>
<path d="M46.75 886.3V1108.3M280.5 886.3V1108.3M314.5 886.3V1108.3M362 886.3V1108.3M369.5 886.3V1108.3M30.6 918.3H385.8M30.6 970.8H385.8M30.6 1023.7H385.8M30.6 1076.3H385.8" stroke="#EAEAEA" stroke-width="1.4" fill="none"/>
<path d="M46.75 918.3H362" stroke="#CBCBCB" stroke-width="2.5"/>
<path d="M46.75 970.8H362" stroke="#CBCBCB" stroke-width="2.5"/>
<path d="M46.75 1023.7H362" stroke="#CBCBCB" stroke-width="2.5"/>
<path d="M46.75 1076.3H369.5" stroke="#CBCBCB" stroke-width="2.5"/>
<rect x="314.5" y="1005.8" width="47.5" height="35" fill="#E3979F"/>
<circle cx="46.75" cy="918.3" r="7" fill="#808080"/>
<circle cx="280.5" cy="918.3" r="7" fill="#808080"/>
<circle cx="362" cy="918.3" r="7" fill="#808080"/>
<path d="M25.6 918.3h5" stroke="#222" stroke-width="1.5"/>
<text x="11.3" y="927.4" font-size="25.5" text-anchor="middle" font-weight="bold" fill="#DE8FD0" >D</text>
<circle cx="46.75" cy="970.8" r="7" fill="#C9333A"/>
<circle cx="280.5" cy="970.8" r="7" fill="#808080"/>
<circle cx="362" cy="970.8" r="7" fill="#C9333A"/>
<path d="M25.6 970.8h5" stroke="#222" stroke-width="1.5"/>
<text x="11.3" y="979.9" font-size="25.5" text-anchor="middle" font-weight="bold" fill="#8DA0CB" >C</text>
<circle cx="46.75" cy="1023.7" r="7" fill="#808080"/>
<circle cx="314.5" cy="1023.7" r="7" fill="#C9333A"/>
<circle cx="362" cy="1023.7" r="7" fill="#C9333A"/>
<path d="M25.6 1023.7h5" stroke="#222" stroke-width="1.5"/>
<text x="11.3" y="1032.8" font-size="25.5" text-anchor="middle" font-weight="bold" fill="#EB8C62" >B</text>
<circle cx="46.75" cy="1076.3" r="7" fill="#C9333A"/>
<circle cx="314.5" cy="1076.3" r="7" fill="#808080"/>
<circle cx="369.5" cy="1076.3" r="7" fill="#808080"/>
<path d="M25.6 1076.3h5" stroke="#222" stroke-width="1.5"/>
<text x="11.3" y="1085.4" font-size="25.5" text-anchor="middle" font-weight="bold" fill="#79CFA8" >A</text>
<rect x="30.6" y="886.3" width="355.2" height="222" fill="none" stroke="#1c1c1c" stroke-width="1.4"/>
<path d="M46.75 1108.3v5.4" stroke="#222" stroke-width="1.5"/>
<text transform="translate(58.05 1121.5) rotate(-60)" font-size="16.9" text-anchor="end" fill="#444" >1</text>
<path d="M280.5 1108.3v5.4" stroke="#222" stroke-width="1.5"/>
<text transform="translate(291.8 1121.5) rotate(-60)" font-size="16.9" text-anchor="end" fill="#444" >104</text>
<path d="M314.5 1108.3v5.4" stroke="#222" stroke-width="1.5"/>
<text transform="translate(325.8 1121.5) rotate(-60)" font-size="16.9" text-anchor="end" fill="#444" >119</text>
<path d="M362 1108.3v5.4" stroke="#222" stroke-width="1.5"/>
<path d="M369.5 1108.3v5.4" stroke="#222" stroke-width="1.5"/>
<text transform="translate(380.8 1121.5) rotate(-60)" font-size="16.9" text-anchor="end" fill="#444" >143</text>
<text x="616.9" y="871" font-size="27.3" text-anchor="middle" font-weight="bold" fill="#000" >Household 8</text>
<path d="M450.75 886.3V1108.3M452 886.3V1108.3M559.25 886.3V1108.3M562.5 886.3V1108.3M629.25 886.3V1108.3M676.75 886.3V1108.3M708.75 886.3V1108.3M766.25 886.3V1108.3M773.25 886.3V1108.3M434.3 907.5H789.6M434.3 943.3H789.6M434.3 979.3H789.6M434.3 1015H789.6M434.3 1050.8H789.6M434.3 1086.8H789.6" stroke="#EAEAEA" stroke-width="1.4" fill="none"/>
<path d="M450.75 907.5H559.25" stroke="#CBCBCB" stroke-width="2.5"/>
<path d="M452 943.3H773.25" stroke="#CBCBCB" stroke-width="2.5"/>
<path d="M450.75 979.3H766.25" stroke="#CBCBCB" stroke-width="2.5"/>
<path d="M450.75 1015H766.25" stroke="#CBCBCB" stroke-width="2.5"/>
<path d="M450.75 1050.8H766.25" stroke="#CBCBCB" stroke-width="2.5"/>
<path d="M450.75 1086.8H766.25" stroke="#CBCBCB" stroke-width="2.5"/>
<rect x="629.25" y="1068.8" width="137" height="35" fill="#E3979F"/>
<circle cx="450.75" cy="907.5" r="7" fill="#808080"/>
<circle cx="559.25" cy="907.5" r="7" fill="#808080"/>
<path d="M429.3 907.5h5" stroke="#222" stroke-width="1.5"/>
<text x="415.6" y="916.6" font-size="25.5" text-anchor="middle" font-weight="bold" fill="#F4D83E" >F</text>
<circle cx="452" cy="943.3" r="7" fill="#C9333A"/>
<circle cx="562.5" cy="943.3" r="7" fill="#808080"/>
<circle cx="629.25" cy="943.3" r="7" fill="#808080"/>
<circle cx="676.75" cy="943.3" r="7" fill="#C9333A"/>
<circle cx="773.25" cy="943.3" r="7" fill="#808080"/>
<path d="M429.3 943.3h5" stroke="#222" stroke-width="1.5"/>
<text x="415.6" y="952.4" font-size="25.5" text-anchor="middle" font-weight="bold" fill="#A9DC5B" >E</text>
<circle cx="450.75" cy="979.3" r="7" fill="#C9333A"/>
<circle cx="559.25" cy="979.3" r="7" fill="#808080"/>
<circle cx="629.25" cy="979.3" r="7" fill="#808080"/>
<circle cx="676.75" cy="979.3" r="7" fill="#808080"/>
<circle cx="708.75" cy="979.3" r="7" fill="#808080"/>
<circle cx="766.25" cy="979.3" r="7" fill="#808080"/>
<path d="M429.3 979.3h5" stroke="#222" stroke-width="1.5"/>
<text x="415.6" y="988.4" font-size="25.5" text-anchor="middle" font-weight="bold" fill="#DE8FD0" >D</text>
<circle cx="450.75" cy="1015" r="7" fill="#808080"/>
<circle cx="559.25" cy="1015" r="7" fill="#808080"/>
<circle cx="629.25" cy="1015" r="7" fill="#808080"/>
<circle cx="676.75" cy="1015" r="7" fill="#808080"/>
<circle cx="766.25" cy="1015" r="7" fill="#808080"/>
<path d="M429.3 1015h5" stroke="#222" stroke-width="1.5"/>
<text x="415.6" y="1024.1" font-size="25.5" text-anchor="middle" font-weight="bold" fill="#8DA0CB" >C</text>
<circle cx="450.75" cy="1050.8" r="7" fill="#808080"/>
<circle cx="559.25" cy="1050.8" r="7" fill="#808080"/>
<circle cx="629.25" cy="1050.8" r="7" fill="#808080"/>
<circle cx="676.75" cy="1050.8" r="7" fill="#808080"/>
<circle cx="708.75" cy="1050.8" r="7" fill="#808080"/>
<circle cx="766.25" cy="1050.8" r="7" fill="#808080"/>
<path d="M429.3 1050.8h5" stroke="#222" stroke-width="1.5"/>
<text x="415.6" y="1059.9" font-size="25.5" text-anchor="middle" font-weight="bold" fill="#79CFA8" >B</text>
<circle cx="450.75" cy="1086.8" r="7" fill="#C9333A"/>
<circle cx="559.25" cy="1086.8" r="7" fill="#808080"/>
<circle cx="629.25" cy="1086.8" r="7" fill="#C9333A"/>
<circle cx="676.75" cy="1086.8" r="7" fill="#C9333A"/>
<circle cx="708.75" cy="1086.8" r="7" fill="#C9333A"/>
<circle cx="766.25" cy="1086.8" r="7" fill="#C9333A"/>
<path d="M429.3 1086.8h5" stroke="#222" stroke-width="1.5"/>
<text x="415.6" y="1095.9" font-size="25.5" text-anchor="middle" font-weight="bold" fill="#EB8C62" >A</text>
<rect x="434.3" y="886.3" width="355.3" height="222" fill="none" stroke="#1c1c1c" stroke-width="1.4"/>
<path d="M450.75 1108.3v5.4" stroke="#222" stroke-width="1.5"/>
<text transform="translate(462.05 1121.5) rotate(-60)" font-size="16.9" text-anchor="end" fill="#444" >1</text>
<path d="M452 1108.3v5.4" stroke="#222" stroke-width="1.5"/>
<path d="M559.25 1108.3v5.4" stroke="#222" stroke-width="1.5"/>
<path d="M562.5 1108.3v5.4" stroke="#222" stroke-width="1.5"/>
<text transform="translate(573.8 1121.5) rotate(-60)" font-size="16.9" text-anchor="end" fill="#444" >100</text>
<path d="M629.25 1108.3v5.4" stroke="#222" stroke-width="1.5"/>
<text transform="translate(640.55 1121.5) rotate(-60)" font-size="16.9" text-anchor="end" fill="#444" >160</text>
<path d="M676.75 1108.3v5.4" stroke="#222" stroke-width="1.5"/>
<text transform="translate(688.05 1121.5) rotate(-60)" font-size="16.9" text-anchor="end" fill="#444" >202</text>
<path d="M708.75 1108.3v5.4" stroke="#222" stroke-width="1.5"/>
<text transform="translate(720.05 1121.5) rotate(-60)" font-size="16.9" text-anchor="end" fill="#444" >230</text>
<path d="M766.25 1108.3v5.4" stroke="#222" stroke-width="1.5"/>
<path d="M773.25 1108.3v5.4" stroke="#222" stroke-width="1.5"/>
<text transform="translate(784.55 1121.5) rotate(-60)" font-size="16.9" text-anchor="end" fill="#444" >287</text>
<text x="1028.2" y="871" font-size="27.3" text-anchor="middle" font-weight="bold" fill="#000" >Household 11</text>
<path d="M854.5 886.3V1108.3M976.75 886.3V1108.3M1015.75 886.3V1108.3M1020 886.3V1108.3M1088 886.3V1108.3M1124.25 886.3V1108.3M1177 886.3V1108.3M838 912H1193.3M838 954.5H1193.3M838 997H1193.3M838 1040H1193.3M838 1082.5H1193.3" stroke="#EAEAEA" stroke-width="1.4" fill="none"/>
<path d="M854.5 912H1177" stroke="#CBCBCB" stroke-width="2.5"/>
<path d="M854.5 954.5H1177" stroke="#CBCBCB" stroke-width="2.5"/>
<path d="M854.5 997H1177" stroke="#CBCBCB" stroke-width="2.5"/>
<path d="M854.5 1040H1177" stroke="#CBCBCB" stroke-width="2.5"/>
<path d="M854.5 1082.5H1177" stroke="#CBCBCB" stroke-width="2.5"/>
<rect x="854.5" y="937" width="161.25" height="34.8" fill="#E3979F"/>
<circle cx="854.5" cy="912" r="7" fill="#808080"/>
<circle cx="976.75" cy="912" r="7" fill="#808080"/>
<circle cx="1020" cy="912" r="7" fill="#808080"/>
<circle cx="1088" cy="912" r="7" fill="#808080"/>
<circle cx="1124.25" cy="912" r="7" fill="#C9333A"/>
<circle cx="1177" cy="912" r="7" fill="#808080"/>
<path d="M833 912h5" stroke="#222" stroke-width="1.5"/>
<text x="819.5" y="921.1" font-size="25.5" text-anchor="middle" font-weight="bold" fill="#A9DC5B" >E</text>
<circle cx="854.5" cy="954.5" r="7" fill="#C9333A"/>
<circle cx="976.75" cy="954.5" r="7" fill="#C9333A"/>
<circle cx="1015.75" cy="954.5" r="7" fill="#C9333A"/>
<circle cx="1177" cy="954.5" r="7" fill="#808080"/>
<path d="M833 954.5h5" stroke="#222" stroke-width="1.5"/>
<text x="819.5" y="963.6" font-size="25.5" text-anchor="middle" font-weight="bold" fill="#EB8C62" >D</text>
<circle cx="854.5" cy="997" r="7" fill="#808080"/>
<circle cx="976.75" cy="997" r="7" fill="#808080"/>
<circle cx="1015.75" cy="997" r="7" fill="#808080"/>
<circle cx="1088" cy="997" r="7" fill="#808080"/>
<circle cx="1124.25" cy="997" r="7" fill="#808080"/>
<circle cx="1177" cy="997" r="7" fill="#808080"/>
<path d="M833 997h5" stroke="#222" stroke-width="1.5"/>
<text x="819.5" y="1006.1" font-size="25.5" text-anchor="middle" font-weight="bold" fill="#DE8FD0" >C</text>
<circle cx="854.5" cy="1040" r="7" fill="#808080"/>
<circle cx="976.75" cy="1040" r="7" fill="#808080"/>
<circle cx="1015.75" cy="1040" r="7" fill="#808080"/>
<circle cx="1088" cy="1040" r="7" fill="#808080"/>
<circle cx="1124.25" cy="1040" r="7" fill="#808080"/>
<circle cx="1177" cy="1040" r="7" fill="#808080"/>
<path d="M833 1040h5" stroke="#222" stroke-width="1.5"/>
<text x="819.5" y="1049.1" font-size="25.5" text-anchor="middle" font-weight="bold" fill="#8DA0CB" >B</text>
<circle cx="854.5" cy="1082.5" r="7" fill="#808080"/>
<circle cx="976.75" cy="1082.5" r="7" fill="#808080"/>
<circle cx="1015.75" cy="1082.5" r="7" fill="#808080"/>
<circle cx="1088" cy="1082.5" r="7" fill="#808080"/>
<circle cx="1124.25" cy="1082.5" r="7" fill="#808080"/>
<circle cx="1177" cy="1082.5" r="7" fill="#808080"/>
<path d="M833 1082.5h5" stroke="#222" stroke-width="1.5"/>
<text x="819.5" y="1091.6" font-size="25.5" text-anchor="middle" font-weight="bold" fill="#79CFA8" >A</text>
<rect x="838" y="886.3" width="355.3" height="222" fill="none" stroke="#1c1c1c" stroke-width="1.4"/>
<path d="M854.5 1108.3v5.4" stroke="#222" stroke-width="1.5"/>
<text transform="translate(865.8 1121.5) rotate(-60)" font-size="16.9" text-anchor="end" fill="#444" >1</text>
<path d="M976.75 1108.3v5.4" stroke="#222" stroke-width="1.5"/>
<text transform="translate(988.05 1121.5) rotate(-60)" font-size="16.9" text-anchor="end" fill="#444" >89</text>
<path d="M1015.75 1108.3v5.4" stroke="#222" stroke-width="1.5"/>
<path d="M1020 1108.3v5.4" stroke="#222" stroke-width="1.5"/>
<text transform="translate(1031.3 1121.5) rotate(-60)" font-size="16.9" text-anchor="end" fill="#444" >120</text>
<path d="M1088 1108.3v5.4" stroke="#222" stroke-width="1.5"/>
<text transform="translate(1099.3 1121.5) rotate(-60)" font-size="16.9" text-anchor="end" fill="#444" >169</text>
<path d="M1124.25 1108.3v5.4" stroke="#222" stroke-width="1.5"/>
<text transform="translate(1135.55 1121.5) rotate(-60)" font-size="16.9" text-anchor="end" fill="#444" >195</text>
<path d="M1177 1108.3v5.4" stroke="#222" stroke-width="1.5"/>
<text transform="translate(1188.3 1121.5) rotate(-60)" font-size="16.9" text-anchor="end" fill="#444" >233</text>
<text x="1416" y="872.6" font-size="27.3" text-anchor="middle" font-weight="bold" fill="#000" >Household 34</text>
<path d="M1258.25 886.3V1115.8M1298.75 886.3V1115.8M1419.5 886.3V1115.8M1486.75 886.3V1115.8M1527 886.3V1115.8M1540.5 886.3V1115.8M1574.25 886.3V1115.8M1580.75 886.3V1115.8M1241.8 919.5H1597M1241.8 973.8H1597M1241.8 1028.3H1597M1241.8 1083H1597" stroke="#EAEAEA" stroke-width="1.4" fill="none"/>
<path d="M1298.75 919.5H1580.75" stroke="#CBCBCB" stroke-width="2.5"/>
<path d="M1298.75 973.8H1574.25" stroke="#CBCBCB" stroke-width="2.5"/>
<path d="M1298.75 1028.3H1574.25" stroke="#CBCBCB" stroke-width="2.5"/>
<path d="M1258.25 1083H1540.5" stroke="#CBCBCB" stroke-width="2.5"/>
<rect x="1258.25" y="1065.8" width="282.25" height="34.7" fill="#E3979F"/>
<circle cx="1298.75" cy="919.5" r="7" fill="#808080"/>
<circle cx="1419.5" cy="919.5" r="7" fill="#808080"/>
<circle cx="1486.75" cy="919.5" r="7" fill="#808080"/>
<circle cx="1527" cy="919.5" r="7" fill="#808080"/>
<circle cx="1580.75" cy="919.5" r="7" fill="#C9333A"/>
<path d="M1236.8 919.5h5" stroke="#222" stroke-width="1.5"/>
<text x="1223.3" y="928.6" font-size="25.5" text-anchor="middle" font-weight="bold" fill="#DE8FD0" >E</text>
<circle cx="1298.75" cy="973.8" r="7" fill="#808080"/>
<circle cx="1419.5" cy="973.8" r="7" fill="#808080"/>
<circle cx="1486.75" cy="973.8" r="7" fill="#808080"/>
<circle cx="1540.5" cy="973.8" r="7" fill="#808080"/>
<circle cx="1574.25" cy="973.8" r="7" fill="#C9333A"/>
<path d="M1236.8 973.8h5" stroke="#222" stroke-width="1.5"/>
<text x="1223.3" y="982.9" font-size="25.5" text-anchor="middle" font-weight="bold" fill="#8DA0CB" >D</text>
<circle cx="1298.75" cy="1028.3" r="7" fill="#808080"/>
<circle cx="1419.5" cy="1028.3" r="7" fill="#808080"/>
<circle cx="1486.75" cy="1028.3" r="7" fill="#808080"/>
<circle cx="1527" cy="1028.3" r="7" fill="#808080"/>
<circle cx="1574.25" cy="1028.3" r="7" fill="#808080"/>
<path d="M1236.8 1028.3h5" stroke="#222" stroke-width="1.5"/>
<text x="1223.3" y="1037.4" font-size="25.5" text-anchor="middle" font-weight="bold" fill="#79CFA8" >B</text>
<circle cx="1258.25" cy="1083" r="7" fill="#C9333A"/>
<circle cx="1298.75" cy="1083" r="7" fill="#C9333A"/>
<circle cx="1419.5" cy="1083" r="7" fill="#C9333A"/>
<circle cx="1486.75" cy="1083" r="7" fill="#C9333A"/>
<circle cx="1527" cy="1083" r="7" fill="#C9333A"/>
<circle cx="1540.5" cy="1083" r="7" fill="#C9333A"/>
<path d="M1236.8 1083h5" stroke="#222" stroke-width="1.5"/>
<text x="1223.3" y="1092.1" font-size="25.5" text-anchor="middle" font-weight="bold" fill="#EB8C62" >A</text>
<rect x="1241.8" y="886.3" width="355.2" height="229.5" fill="none" stroke="#1c1c1c" stroke-width="1.4"/>
<path d="M1258.25 1115.8v5.4" stroke="#222" stroke-width="1.5"/>
<text transform="translate(1269.55 1129) rotate(-60)" font-size="16.9" text-anchor="end" fill="#444" >1</text>
<path d="M1298.75 1115.8v5.4" stroke="#222" stroke-width="1.5"/>
<text transform="translate(1310.05 1129) rotate(-60)" font-size="16.9" text-anchor="end" fill="#444" >7</text>
<path d="M1419.5 1115.8v5.4" stroke="#222" stroke-width="1.5"/>
<text transform="translate(1430.8 1129) rotate(-60)" font-size="16.9" text-anchor="end" fill="#444" >25</text>
<path d="M1486.75 1115.8v5.4" stroke="#222" stroke-width="1.5"/>
<text transform="translate(1498.05 1129) rotate(-60)" font-size="16.9" text-anchor="end" fill="#444" >35</text>
<path d="M1527 1115.8v5.4" stroke="#222" stroke-width="1.5"/>
<text transform="translate(1538.3 1129) rotate(-60)" font-size="16.9" text-anchor="end" fill="#444" >41</text>
<path d="M1540.5 1115.8v5.4" stroke="#222" stroke-width="1.5"/>
<text transform="translate(1551.8 1129) rotate(-60)" font-size="16.9" text-anchor="end" fill="#444" >43</text>
<path d="M1574.25 1115.8v5.4" stroke="#222" stroke-width="1.5"/>
<path d="M1580.75 1115.8v5.4" stroke="#222" stroke-width="1.5"/>
<text transform="translate(1592.05 1129) rotate(-60)" font-size="16.9" text-anchor="end" fill="#444" >49</text>
<text x="818.6" y="1175.9" font-size="23.5" text-anchor="middle" font-weight="normal" fill="#000" >Sampling day</text></g>
<g id="trees"><path d="M187.3 1413.5L104.01 1417.86M156.19 1336.12A83.4 83.4 0 0 0 163.89 1493.55M156.64 1337.23L125.46 1259.66M172.27 1248.38A165.8 165.8 0 0 0 28.66 1461.7M164.23 1492.4L140.71 1572.83M49.68 1506.33A166 166 0 0 0 350.68 1442.9M187.3 1413.5L246.04 1355.57M260.74 1375.92A82.5 82.5 0 0 0 204.17 1332.74M226.79 1341.07L266.52 1268.19" stroke="#000" stroke-width="3.2" fill="none" stroke-linejoin="miter" stroke-linecap="butt"/>

<circle cx="171.98" cy="1248.31" r="7.2" fill="#8A9ECB" fill-opacity="0.78" stroke="#8A9ECB" stroke-opacity="0.45" stroke-width="0.9"/>
<circle cx="124.35" cy="1260.01" r="7.2" fill="#8A9ECB" fill-opacity="0.78" stroke="#8A9ECB" stroke-opacity="0.45" stroke-width="0.9"/>
<circle cx="82.22" cy="1285.12" r="7.2" fill="#8A9ECB" fill-opacity="0.78" stroke="#8A9ECB" stroke-opacity="0.45" stroke-width="0.9"/>
<circle cx="49.44" cy="1321.21" r="7.2" fill="#8A9ECB" fill-opacity="0.78" stroke="#8A9ECB" stroke-opacity="0.45" stroke-width="0.9"/>
<circle cx="28.56" cy="1365.27" r="7.2" fill="#8A9ECB" fill-opacity="0.78" stroke="#8A9ECB" stroke-opacity="0.45" stroke-width="0.9"/>
<circle cx="21.4" cy="1413.5" r="7.2" fill="#8A9ECB" fill-opacity="0.78" stroke="#8A9ECB" stroke-opacity="0.45" stroke-width="0.9"/>
<circle cx="28.48" cy="1461.45" r="7.2" fill="#8A9ECB" fill-opacity="0.78" stroke="#8A9ECB" stroke-opacity="0.45" stroke-width="0.9"/>
<circle cx="266.78" cy="1268.33" r="7.2" fill="#8A9ECB" fill-opacity="0.78" stroke="#8A9ECB" stroke-opacity="0.45" stroke-width="0.9"/>
<circle cx="260.83" cy="1375.87" r="7.2" fill="#62C2A0" fill-opacity="0.82" stroke="#62C2A0" stroke-opacity="0.45" stroke-width="0.9"/>
<circle cx="246.62" cy="1356.02" r="7.2" fill="#62C2A0" fill-opacity="0.82" stroke="#62C2A0" stroke-opacity="0.45" stroke-width="0.9"/>
<circle cx="204.19" cy="1332.65" r="7.2" fill="#62C2A0" fill-opacity="0.82" stroke="#62C2A0" stroke-opacity="0.45" stroke-width="0.9"/>
<circle cx="49.6" cy="1506.38" r="7.2" fill="#EE7A4D" fill-opacity="0.72" stroke="#EE7A4D" stroke-opacity="0.45" stroke-width="0.9"/>
<circle cx="82.93" cy="1542.71" r="7.2" fill="#EE7A4D" fill-opacity="0.72" stroke="#EE7A4D" stroke-opacity="0.45" stroke-width="0.9"/>
<circle cx="124.54" cy="1567.29" r="7.2" fill="#EE7A4D" fill-opacity="0.72" stroke="#EE7A4D" stroke-opacity="0.45" stroke-width="0.9"/>
<circle cx="171.67" cy="1578.86" r="7.2" fill="#EE7A4D" fill-opacity="0.72" stroke="#EE7A4D" stroke-opacity="0.45" stroke-width="0.9"/>
<circle cx="220.84" cy="1576.18" r="7.2" fill="#EE7A4D" fill-opacity="0.72" stroke="#EE7A4D" stroke-opacity="0.45" stroke-width="0.9"/>
<circle cx="267.07" cy="1559.19" r="7.2" fill="#EE7A4D" fill-opacity="0.72" stroke="#EE7A4D" stroke-opacity="0.45" stroke-width="0.9"/>
<circle cx="306.18" cy="1529.51" r="7.2" fill="#EE7A4D" fill-opacity="0.72" stroke="#EE7A4D" stroke-opacity="0.45" stroke-width="0.9"/>
<circle cx="335.03" cy="1489.42" r="7.2" fill="#EE7A4D" fill-opacity="0.72" stroke="#EE7A4D" stroke-opacity="0.45" stroke-width="0.9"/>
<circle cx="350.72" cy="1443.2" r="7.2" fill="#EE7A4D" fill-opacity="0.72" stroke="#EE7A4D" stroke-opacity="0.45" stroke-width="0.9"/><path d="M290.4 1295.5H375.4" stroke="#000" stroke-width="3.2"/><text x="333.7" y="1287.8" font-size="19.9" text-anchor="middle" font-weight="normal" fill="#000" >1 SNP</text>
<path d="M578.1 1425.5L521.74 1351.52M581.41 1378.12A47.5 47.5 0 0 0 532.68 1439.39M578.1 1425.5L715.41 1389.32M718.27 1402.8A142 142 0 0 0 661.97 1310.91M717.09 1402.99L764.67 1395.28M705.62 1363.03L747.65 1342.44M672.38 1319.31L703.58 1284.17M566.21 1379.51L554.31 1333.53M570.92 1378.55L563.73 1331.59M575.45 1378.07L572.8 1330.65M580.09 1378.04L582.08 1330.58M593.72 1380.64L609.34 1335.78M602.21 1384.57L626.32 1343.65M561.93 1380.84L513.67 1247.5M530.78 1429.64L487.45 1433.43M487.19 1429.47A91 91 0 0 0 487.86 1437.22M488.39 1429.42L436.24 1431.69M489.05 1437.07L484.39 1437.67M532.44 1438.59L491.59 1450.31M490.59 1446.51A90 90 0 0 0 492.8 1454.21M491.75 1446.23L486.7 1447.44M493.94 1453.82L489.01 1455.48M484.81 1415.7L441.85 1411.18M442.6 1405.25A137 137 0 0 0 441.34 1417.38M443.79 1405.43L437.66 1404.51M442.54 1417.45L436.35 1417.08M542.75 1457.22L437.95 1551.25M556.68 1467.9L537.97 1504.94M531.6 1501.38A89 89 0 0 0 547.37 1509.03M532.22 1500.36L529.25 1505.22M539.34 1504.28L536.82 1509.39M547.78 1507.9L545.81 1513.25M585.04 1472.49L591.76 1518M593.8 1470.33L609.14 1514.12" stroke="#000" stroke-width="3.1" fill="none" stroke-linejoin="miter" stroke-linecap="butt"/>
<path d="M602.21 1384.57A47.5 47.5 0 0 0 581.41 1378.12M532.68 1439.39A47.5 47.5 0 0 0 598.92 1468.19M529.88 1343.65A95 95 0 0 0 483.62 1415.57" stroke="#000" stroke-width="1.3" fill="none"/>
<path d="M598.92 1468.19A47.5 47.5 0 0 0 625.55 1427.57" stroke="#EF8258" stroke-width="16" stroke-linecap="round" fill="none"/>
<circle cx="558.06" cy="1382.32" r="7.9" fill="#EE7A4D" fill-opacity="0.72" stroke="#EE7A4D" stroke-opacity="0.45" stroke-width="0.9"/>
<circle cx="583.65" cy="1378.23" r="7.9" fill="#EE7A4D" fill-opacity="0.72" stroke="#EE7A4D" stroke-opacity="0.45" stroke-width="0.9"/>
<circle cx="587.18" cy="1378.77" r="7.9" fill="#EE7A4D" fill-opacity="0.72" stroke="#EE7A4D" stroke-opacity="0.45" stroke-width="0.9"/>
<circle cx="590.18" cy="1379.46" r="7.9" fill="#EE7A4D" fill-opacity="0.72" stroke="#EE7A4D" stroke-opacity="0.45" stroke-width="0.9"/>
<circle cx="598.97" cy="1382.72" r="7.9" fill="#EE7A4D" fill-opacity="0.72" stroke="#EE7A4D" stroke-opacity="0.45" stroke-width="0.9"/>
<circle cx="595.93" cy="1381.37" r="7.9" fill="#EE7A4D" fill-opacity="0.72" stroke="#EE7A4D" stroke-opacity="0.45" stroke-width="0.9"/>
<circle cx="534.48" cy="1444.56" r="7.9" fill="#96E150" fill-opacity="0.82" stroke="#96E150" stroke-opacity="0.45" stroke-width="0.9"/>
<circle cx="536.07" cy="1447.85" r="7.9" fill="#96E150" fill-opacity="0.82" stroke="#96E150" stroke-opacity="0.45" stroke-width="0.9"/>
<circle cx="538.09" cy="1451.29" r="7.9" fill="#96E150" fill-opacity="0.82" stroke="#96E150" stroke-opacity="0.45" stroke-width="0.9"/>
<circle cx="544.38" cy="1459.1" r="7.9" fill="#EE7A4D" fill-opacity="0.72" stroke="#EE7A4D" stroke-opacity="0.45" stroke-width="0.9"/>
<circle cx="547.5" cy="1461.96" r="7.9" fill="#EE7A4D" fill-opacity="0.72" stroke="#EE7A4D" stroke-opacity="0.45" stroke-width="0.9"/>
<circle cx="550.73" cy="1464.44" r="7.9" fill="#EE7A4D" fill-opacity="0.72" stroke="#EE7A4D" stroke-opacity="0.45" stroke-width="0.9"/>
<circle cx="564.18" cy="1471.02" r="7.9" fill="#EE7A4D" fill-opacity="0.72" stroke="#EE7A4D" stroke-opacity="0.45" stroke-width="0.9"/>
<circle cx="572.55" cy="1472.77" r="7.9" fill="#96E150" fill-opacity="0.82" stroke="#96E150" stroke-opacity="0.45" stroke-width="0.9"/>
<circle cx="576.02" cy="1473.05" r="7.9" fill="#96E150" fill-opacity="0.82" stroke="#96E150" stroke-opacity="0.45" stroke-width="0.9"/>
<circle cx="579.51" cy="1473.08" r="7.9" fill="#96E150" fill-opacity="0.82" stroke="#96E150" stroke-opacity="0.45" stroke-width="0.9"/>
<circle cx="590.02" cy="1471.58" r="7.9" fill="#96E150" fill-opacity="0.82" stroke="#96E150" stroke-opacity="0.45" stroke-width="0.9"/>
<circle cx="594.38" cy="1470.23" r="7.9" fill="#EE7A4D" fill-opacity="0.72" stroke="#EE7A4D" stroke-opacity="0.45" stroke-width="0.9"/>
<circle cx="529.88" cy="1343.65" r="7.9" fill="#EE7A4D" fill-opacity="0.72" stroke="#EE7A4D" stroke-opacity="0.45" stroke-width="0.9"/>
<circle cx="523.52" cy="1347.75" r="7.9" fill="#DC78D4" fill-opacity="0.78" stroke="#DC78D4" stroke-opacity="0.45" stroke-width="0.9"/>
<circle cx="517.49" cy="1352.34" r="7.9" fill="#DC78D4" fill-opacity="0.78" stroke="#DC78D4" stroke-opacity="0.45" stroke-width="0.9"/>
<circle cx="511.86" cy="1357.41" r="7.9" fill="#DC78D4" fill-opacity="0.78" stroke="#DC78D4" stroke-opacity="0.45" stroke-width="0.9"/>
<circle cx="506.64" cy="1362.9" r="7.9" fill="#DC78D4" fill-opacity="0.78" stroke="#DC78D4" stroke-opacity="0.45" stroke-width="0.9"/>
<circle cx="501.88" cy="1368.79" r="7.9" fill="#DC78D4" fill-opacity="0.78" stroke="#DC78D4" stroke-opacity="0.45" stroke-width="0.9"/>
<circle cx="497.61" cy="1375.05" r="7.9" fill="#EE7A4D" fill-opacity="0.72" stroke="#EE7A4D" stroke-opacity="0.45" stroke-width="0.9"/>
<circle cx="493.84" cy="1381.62" r="7.9" fill="#EE7A4D" fill-opacity="0.72" stroke="#EE7A4D" stroke-opacity="0.45" stroke-width="0.9"/>
<circle cx="490.61" cy="1388.47" r="7.9" fill="#DC78D4" fill-opacity="0.78" stroke="#DC78D4" stroke-opacity="0.45" stroke-width="0.9"/>
<circle cx="487.94" cy="1395.56" r="7.9" fill="#DC78D4" fill-opacity="0.78" stroke="#DC78D4" stroke-opacity="0.45" stroke-width="0.9"/>
<circle cx="485.84" cy="1402.84" r="7.9" fill="#EE7A4D" fill-opacity="0.72" stroke="#EE7A4D" stroke-opacity="0.45" stroke-width="0.9"/>
<circle cx="554.31" cy="1333.53" r="7.9" fill="#EE7A4D" fill-opacity="0.72" stroke="#EE7A4D" stroke-opacity="0.45" stroke-width="0.9"/>
<circle cx="563.73" cy="1331.59" r="7.9" fill="#EE7A4D" fill-opacity="0.72" stroke="#EE7A4D" stroke-opacity="0.45" stroke-width="0.9"/>
<circle cx="572.8" cy="1330.65" r="7.9" fill="#EE7A4D" fill-opacity="0.72" stroke="#EE7A4D" stroke-opacity="0.45" stroke-width="0.9"/>
<circle cx="582.08" cy="1330.58" r="7.9" fill="#EE7A4D" fill-opacity="0.72" stroke="#EE7A4D" stroke-opacity="0.45" stroke-width="0.9"/>
<circle cx="609.34" cy="1335.78" r="7.9" fill="#EE7A4D" fill-opacity="0.72" stroke="#EE7A4D" stroke-opacity="0.45" stroke-width="0.9"/>
<circle cx="626.18" cy="1343.22" r="7.9" fill="#DC78D4" fill-opacity="0.78" stroke="#DC78D4" stroke-opacity="0.45" stroke-width="0.9"/>
<circle cx="513.67" cy="1247.5" r="7.9" fill="#EE7A4D" fill-opacity="0.72" stroke="#EE7A4D" stroke-opacity="0.45" stroke-width="0.9"/>
<circle cx="437.66" cy="1404.51" r="7.9" fill="#EE7A4D" fill-opacity="0.72" stroke="#EE7A4D" stroke-opacity="0.45" stroke-width="0.9"/>
<circle cx="436.35" cy="1417.08" r="7.9" fill="#EE7A4D" fill-opacity="0.72" stroke="#EE7A4D" stroke-opacity="0.45" stroke-width="0.9"/>
<circle cx="436.24" cy="1431.69" r="7.9" fill="#DC78D4" fill-opacity="0.78" stroke="#DC78D4" stroke-opacity="0.45" stroke-width="0.9"/>
<circle cx="484.59" cy="1437.65" r="7.9" fill="#DC78D4" fill-opacity="0.78" stroke="#DC78D4" stroke-opacity="0.45" stroke-width="0.9"/>
<circle cx="486.7" cy="1447.44" r="7.9" fill="#96E150" fill-opacity="0.82" stroke="#96E150" stroke-opacity="0.45" stroke-width="0.9"/>
<circle cx="488.73" cy="1455.58" r="7.9" fill="#96E150" fill-opacity="0.82" stroke="#96E150" stroke-opacity="0.45" stroke-width="0.9"/>
<circle cx="437.95" cy="1551.25" r="7.9" fill="#EE7A4D" fill-opacity="0.72" stroke="#EE7A4D" stroke-opacity="0.45" stroke-width="0.9"/>
<circle cx="529.25" cy="1505.22" r="7.9" fill="#EE7A4D" fill-opacity="0.72" stroke="#EE7A4D" stroke-opacity="0.45" stroke-width="0.9"/>
<circle cx="536.82" cy="1509.39" r="7.9" fill="#EE7A4D" fill-opacity="0.72" stroke="#EE7A4D" stroke-opacity="0.45" stroke-width="0.9"/>
<circle cx="545.81" cy="1513.25" r="7.9" fill="#EE7A4D" fill-opacity="0.72" stroke="#EE7A4D" stroke-opacity="0.45" stroke-width="0.9"/>
<circle cx="591.44" cy="1518.04" r="7.9" fill="#96E150" fill-opacity="0.82" stroke="#96E150" stroke-opacity="0.45" stroke-width="0.9"/>
<circle cx="609.14" cy="1514.12" r="7.9" fill="#96E150" fill-opacity="0.82" stroke="#96E150" stroke-opacity="0.45" stroke-width="0.9"/>
<circle cx="715.39" cy="1389.23" r="7.9" fill="#EE7A4D" fill-opacity="0.72" stroke="#EE7A4D" stroke-opacity="0.45" stroke-width="0.9"/>
<circle cx="711.02" cy="1375.54" r="7.9" fill="#EE7A4D" fill-opacity="0.72" stroke="#EE7A4D" stroke-opacity="0.45" stroke-width="0.9"/>
<circle cx="699.17" cy="1351.31" r="7.9" fill="#96E150" fill-opacity="0.82" stroke="#96E150" stroke-opacity="0.45" stroke-width="0.9"/>
<circle cx="691.06" cy="1339.45" r="7.9" fill="#EE7A4D" fill-opacity="0.72" stroke="#EE7A4D" stroke-opacity="0.45" stroke-width="0.9"/>
<circle cx="682.29" cy="1329.02" r="7.9" fill="#EE7A4D" fill-opacity="0.72" stroke="#EE7A4D" stroke-opacity="0.45" stroke-width="0.9"/>
<circle cx="661.97" cy="1310.91" r="7.9" fill="#EE7A4D" fill-opacity="0.72" stroke="#EE7A4D" stroke-opacity="0.45" stroke-width="0.9"/>
<circle cx="764.89" cy="1395.41" r="7.9" fill="#DC78D4" fill-opacity="0.78" stroke="#DC78D4" stroke-opacity="0.45" stroke-width="0.9"/>
<circle cx="747.65" cy="1342.44" r="7.9" fill="#EE7A4D" fill-opacity="0.72" stroke="#EE7A4D" stroke-opacity="0.45" stroke-width="0.9"/>
<circle cx="703.65" cy="1284.09" r="7.9" fill="#EE7A4D" fill-opacity="0.72" stroke="#EE7A4D" stroke-opacity="0.45" stroke-width="0.9"/><text transform="translate(649 1398.3) rotate(-15)" font-size="19" text-anchor="middle">2</text><path d="M658.5 1559.6H711.5" stroke="#000" stroke-width="3.2"/><text x="684.8" y="1547.9" font-size="19.9" text-anchor="middle" font-weight="normal" fill="#000" >1 SNP</text>
<path d="M972.35 1371.36A64 64 0 1 0 1014.56 1467.06M972.53 1372.62L982.79 1323.48M936.02 1375.93L922.37 1342.41M920.08 1385.38L896.61 1356.52M907.58 1399.06L877.54 1378.87M899.62 1415.8L864.52 1405.11M896.9 1434.13L878.7 1434.14M907.62 1469.19L893.35 1478.8M920.13 1482.86L914.33 1490.01M936.08 1492.29L927.47 1513.51M954.1 1496.65L952.47 1514.78M972.6 1495.56L976.33 1513.37M989.97 1489.12L1011.76 1528.72M959.7 1434.1L951.83 1340.43M1013.53 1466.44L1029.13 1475.82M1018.16 1490.16A81 81 0 0 0 1036.42 1460.07M1017.3 1489.33L1027.4 1499.02M1035.29 1459.68L1085.68 1476.74M1078.41 1494.07A133 133 0 0 0 1090.64 1457.42M1077.34 1493.53L1160.53 1535.55M1089.46 1457.21L1116.24 1461.98M959.7 1434.1L975.56 1424.57M976.11 1425.56A18.5 18.5 0 0 0 970.76 1419.27M975.05 1426.11L992.16 1417.2M970.04 1420.23L1002.61 1376.53M1011.09 1383.95A71.8 71.8 0 0 0 994.29 1371.18M1010.23 1384.79L1062.04 1334.23M993.71 1372.23L1068.91 1235.44" stroke="#000" stroke-width="3.2" fill="none" stroke-linejoin="miter" stroke-linecap="butt"/>

<circle cx="982.79" cy="1323.48" r="9.8" fill="#EE7A4D" fill-opacity="0.72" stroke="#EE7A4D" stroke-opacity="0.45" stroke-width="0.9"/>
<circle cx="922.37" cy="1342.41" r="9.8" fill="#EE7A4D" fill-opacity="0.72" stroke="#EE7A4D" stroke-opacity="0.45" stroke-width="0.9"/>
<circle cx="896.61" cy="1356.52" r="9.8" fill="#EE7A4D" fill-opacity="0.72" stroke="#EE7A4D" stroke-opacity="0.45" stroke-width="0.9"/>
<circle cx="877.54" cy="1378.87" r="9.8" fill="#EE7A4D" fill-opacity="0.72" stroke="#EE7A4D" stroke-opacity="0.45" stroke-width="0.9"/>
<circle cx="864.52" cy="1405.11" r="9.8" fill="#EE7A4D" fill-opacity="0.72" stroke="#EE7A4D" stroke-opacity="0.45" stroke-width="0.9"/>
<circle cx="878.7" cy="1434.14" r="9.8" fill="#EE7A4D" fill-opacity="0.72" stroke="#EE7A4D" stroke-opacity="0.45" stroke-width="0.9"/>
<circle cx="893.35" cy="1478.8" r="9.8" fill="#EE7A4D" fill-opacity="0.72" stroke="#EE7A4D" stroke-opacity="0.45" stroke-width="0.9"/>
<circle cx="914.33" cy="1490.01" r="9.8" fill="#EE7A4D" fill-opacity="0.72" stroke="#EE7A4D" stroke-opacity="0.45" stroke-width="0.9"/>
<circle cx="927.47" cy="1513.51" r="9.8" fill="#EE7A4D" fill-opacity="0.72" stroke="#EE7A4D" stroke-opacity="0.45" stroke-width="0.9"/>
<circle cx="952.47" cy="1514.78" r="9.8" fill="#EE7A4D" fill-opacity="0.72" stroke="#EE7A4D" stroke-opacity="0.45" stroke-width="0.9"/>
<circle cx="976.33" cy="1513.37" r="9.8" fill="#EE7A4D" fill-opacity="0.72" stroke="#EE7A4D" stroke-opacity="0.45" stroke-width="0.9"/>
<circle cx="1011.76" cy="1528.72" r="9.8" fill="#EE7A4D" fill-opacity="0.72" stroke="#EE7A4D" stroke-opacity="0.45" stroke-width="0.9"/>
<circle cx="951.83" cy="1340.43" r="9.8" fill="#EE7A4D" fill-opacity="0.72" stroke="#EE7A4D" stroke-opacity="0.45" stroke-width="0.9"/>
<circle cx="895.59" cy="1453.58" r="9.8" fill="#EE7A4D" fill-opacity="0.72" stroke="#EE7A4D" stroke-opacity="0.45" stroke-width="0.9"/>
<circle cx="1027.4" cy="1499.02" r="9.8" fill="#EE7A4D" fill-opacity="0.72" stroke="#EE7A4D" stroke-opacity="0.45" stroke-width="0.9"/>
<circle cx="1160.18" cy="1536.25" r="9.8" fill="#96E150" fill-opacity="0.82" stroke="#96E150" stroke-opacity="0.45" stroke-width="0.9"/>
<circle cx="1116.24" cy="1461.98" r="9.8" fill="#96E150" fill-opacity="0.82" stroke="#96E150" stroke-opacity="0.45" stroke-width="0.9"/>
<circle cx="992.16" cy="1417.2" r="9.8" fill="#EE7A4D" fill-opacity="0.72" stroke="#EE7A4D" stroke-opacity="0.45" stroke-width="0.9"/>
<circle cx="1061.87" cy="1334.05" r="9.8" fill="#EE7A4D" fill-opacity="0.72" stroke="#EE7A4D" stroke-opacity="0.45" stroke-width="0.9"/>
<circle cx="1068.57" cy="1235.25" r="9.8" fill="#96E150" fill-opacity="0.82" stroke="#96E150" stroke-opacity="0.45" stroke-width="0.9"/><path d="M842.1 1561.5H896.2" stroke="#000" stroke-width="3.2"/><text x="879" y="1553.3" font-size="19.9" text-anchor="middle" font-weight="normal" fill="#000" >4 SNPs</text>
<path d="M1412 1554L1404.02 1450.31M1418.23 1449.18A105 105 0 0 0 1390.17 1451.29M1418.17 1450.18L1418.58 1443.2M1408.91 1450.05L1408.71 1443.05M1399.51 1450.75L1398.66 1443.8M1390.38 1452.27L1388.92 1445.43M1412 1554L1438.65 1401.31M1445.81 1402.73A155 155 0 0 0 1432.5 1400.36M1432.47 1401.57L1442.48 1327.04M1445.55 1403.9L1462.48 1328.17M1412 1554L1528.78 1176.03M1412 1554L1399.5 1524.54M1361.71 1529.36L1313.22 1505.61" stroke="#000" stroke-width="3" fill="none" stroke-linejoin="miter" stroke-linecap="butt"/>
<path d="M1392.47 1503.12A54.5 54.5 0 0 0 1363.44 1529.26" stroke="#F08C66" stroke-width="21.5" stroke-linecap="round" fill="none"/>
<path d="M1383.75 1538.98A32 32 0 1 0 1431.7 1528.78" stroke="#EF8258" stroke-width="22" stroke-linecap="round" fill="none"/>
<path d="M1451.61 1537.27L1482.01 1524.43" stroke="#C9623D" stroke-width="2.4" fill="none"/>
<path d="M1450.81 1535.49L1475.18 1523.86" stroke="#C9623D" stroke-width="2.4" fill="none"/>
<path d="M1453.31 1542.08L1464.27 1538.91" stroke="#C9623D" stroke-width="2.4" fill="none"/>
<path d="M1454.58 1559.98L1465.67 1561.54" stroke="#C9623D" stroke-width="2.4" fill="none"/>
<path d="M1450.45 1573.25L1460.11 1578.09" stroke="#C9623D" stroke-width="2.4" fill="none"/>
<path d="M1444.3 1582.38L1451.82 1588.98" stroke="#C9623D" stroke-width="2.4" fill="none"/>
<path d="M1407.65 1596.78L1406.48 1608.32" stroke="#C9623D" stroke-width="2.4" fill="none"/>
<path d="M1369.28 1558.87L1357.65 1560.19" stroke="#C9623D" stroke-width="2.4" fill="none"/>
<circle cx="1399.46" cy="1521.32" r="10.8" fill="#EE7A4D" fill-opacity="0.72" stroke="#EE7A4D" stroke-opacity="0.45" stroke-width="0.9"/>
<circle cx="1391.92" cy="1525.33" r="10.8" fill="#EE7A4D" fill-opacity="0.72" stroke="#EE7A4D" stroke-opacity="0.45" stroke-width="0.9"/>
<circle cx="1395.63" cy="1500.45" r="10.8" fill="#EE7A4D" fill-opacity="0.72" stroke="#EE7A4D" stroke-opacity="0.45" stroke-width="0.9"/>
<circle cx="1482.01" cy="1524.43" r="10.8" fill="#EE7A4D" fill-opacity="0.72" stroke="#EE7A4D" stroke-opacity="0.45" stroke-width="0.9"/>
<circle cx="1475.18" cy="1523.86" r="10.8" fill="#EE7A4D" fill-opacity="0.72" stroke="#EE7A4D" stroke-opacity="0.45" stroke-width="0.9"/>
<circle cx="1464.27" cy="1538.91" r="10.8" fill="#EE7A4D" fill-opacity="0.72" stroke="#EE7A4D" stroke-opacity="0.45" stroke-width="0.9"/>
<circle cx="1465.67" cy="1561.54" r="10.8" fill="#EE7A4D" fill-opacity="0.72" stroke="#EE7A4D" stroke-opacity="0.45" stroke-width="0.9"/>
<circle cx="1460.11" cy="1578.09" r="10.8" fill="#EE7A4D" fill-opacity="0.72" stroke="#EE7A4D" stroke-opacity="0.45" stroke-width="0.9"/>
<circle cx="1451.82" cy="1588.98" r="10.8" fill="#EE7A4D" fill-opacity="0.72" stroke="#EE7A4D" stroke-opacity="0.45" stroke-width="0.9"/>
<circle cx="1406.48" cy="1608.32" r="10.8" fill="#EE7A4D" fill-opacity="0.72" stroke="#EE7A4D" stroke-opacity="0.45" stroke-width="0.9"/>
<circle cx="1357.65" cy="1560.19" r="10.8" fill="#EE7A4D" fill-opacity="0.72" stroke="#EE7A4D" stroke-opacity="0.45" stroke-width="0.9"/>
<circle cx="1313.22" cy="1505.61" r="10.8" fill="#EE7A4D" fill-opacity="0.72" stroke="#EE7A4D" stroke-opacity="0.45" stroke-width="0.9"/>
<circle cx="1418.58" cy="1443.2" r="10.8" fill="#EE7A4D" fill-opacity="0.72" stroke="#EE7A4D" stroke-opacity="0.45" stroke-width="0.9"/>
<circle cx="1408.71" cy="1443.05" r="10.8" fill="#EE7A4D" fill-opacity="0.72" stroke="#EE7A4D" stroke-opacity="0.45" stroke-width="0.9"/>
<circle cx="1398.66" cy="1443.8" r="10.8" fill="#EE7A4D" fill-opacity="0.72" stroke="#EE7A4D" stroke-opacity="0.45" stroke-width="0.9"/>
<circle cx="1388.92" cy="1445.43" r="10.8" fill="#EE7A4D" fill-opacity="0.72" stroke="#EE7A4D" stroke-opacity="0.45" stroke-width="0.9"/>
<circle cx="1442.88" cy="1325.58" r="10.8" fill="#DC78D4" fill-opacity="0.78" stroke="#DC78D4" stroke-opacity="0.45" stroke-width="0.9"/>
<circle cx="1462.65" cy="1327.39" r="10.8" fill="#DC78D4" fill-opacity="0.78" stroke="#DC78D4" stroke-opacity="0.45" stroke-width="0.9"/>
<circle cx="1528.78" cy="1176.03" r="10.8" fill="#EE7A4D" fill-opacity="0.72" stroke="#EE7A4D" stroke-opacity="0.45" stroke-width="0.9"/>
<circle cx="1430.02" cy="1525.17" r="11" fill="#9B96C6"/><text transform="translate(1493.2 1280.5) rotate(-73)" font-size="19" text-anchor="middle">15</text><text transform="translate(1427.5 1363.5) rotate(-82)" font-size="19" text-anchor="middle">3</text><text transform="translate(1429.3 1413) rotate(-80)" font-size="19" text-anchor="middle">5</text><path d="M1241 1444H1319.8" stroke="#000" stroke-width="3.2"/><text x="1280.8" y="1430.7" font-size="19.9" text-anchor="middle" font-weight="normal" fill="#000" >3 SNPs</text></g>
</svg>
</body></html>
